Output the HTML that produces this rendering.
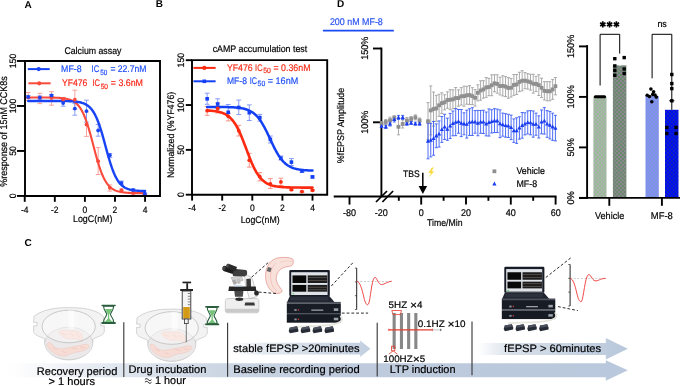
<!DOCTYPE html>
<html><head><meta charset="utf-8"><style>
html,body{margin:0;padding:0;background:#fff;}
svg{display:block;font-family:"Liberation Sans", sans-serif;text-rendering:geometricPrecision;}
#w{will-change:transform;width:685px;height:386px;}
</style></head><body><div id="w">
<svg width="685" height="386" viewBox="0 0 685 386">
<text transform="translate(24.5,8.3) scale(1,1.0)" x="0" y="0" font-size="10.0" fill="#000" text-anchor="start" font-weight="bold" >A</text>
<text transform="translate(64.4,54.1) scale(1,1.08)" x="0" y="0" font-size="9" fill="#000" stroke="#000" stroke-width="0.18" text-anchor="start" font-weight="normal" textLength="57" lengthAdjust="spacingAndGlyphs" >Calcium assay</text>
<line x1="27.80" y1="69.10" x2="49.70" y2="69.10" stroke="#1844f5" stroke-width="2.0" />
<circle cx="38.7" cy="69.1" r="2.1" fill="#1844f5"/>
<text transform="translate(61.1,72.3) scale(1,1.08)" x="0" y="0" font-size="8.9" fill="#1f4ff7" stroke="#1f4ff7" stroke-width="0.18" text-anchor="start" font-weight="normal" textLength="20.5" lengthAdjust="spacingAndGlyphs" >MF-8</text>
<text transform="translate(91.5,72.3) scale(1,1.08)" x="0" y="0" font-size="8.9" fill="#1f4ff7" stroke="#1f4ff7" stroke-width="0.18" text-anchor="start" font-weight="normal" textLength="7.7" lengthAdjust="spacingAndGlyphs" >IC</text>
<text transform="translate(100.2,74.6) scale(1,1.08)" x="0" y="0" font-size="7.0" fill="#1f4ff7" stroke="#1f4ff7" stroke-width="0.18" text-anchor="start" font-weight="normal" textLength="7.1" lengthAdjust="spacingAndGlyphs" >50</text>
<text transform="translate(110.4,72.3) scale(1,1.08)" x="0" y="0" font-size="8.9" fill="#1f4ff7" stroke="#1f4ff7" stroke-width="0.18" text-anchor="start" font-weight="normal" textLength="36.1" lengthAdjust="spacingAndGlyphs" >= 22.7nM</text>
<line x1="28.40" y1="83.30" x2="50.60" y2="83.30" stroke="#fa4a3c" stroke-width="2.0" />
<circle cx="39.2" cy="83.3" r="2.1" fill="#fa4a3c"/>
<text transform="translate(62.0,86.2) scale(1,1.08)" x="0" y="0" font-size="8.9" fill="#f8281a" stroke="#f8281a" stroke-width="0.18" text-anchor="start" font-weight="normal" textLength="25.3" lengthAdjust="spacingAndGlyphs" >YF476</text>
<text transform="translate(92.5,86.2) scale(1,1.08)" x="0" y="0" font-size="8.9" fill="#f8281a" stroke="#f8281a" stroke-width="0.18" text-anchor="start" font-weight="normal" textLength="7.5" lengthAdjust="spacingAndGlyphs" >IC</text>
<text transform="translate(100.7,88.5) scale(1,1.08)" x="0" y="0" font-size="7.0" fill="#f8281a" stroke="#f8281a" stroke-width="0.18" text-anchor="start" font-weight="normal" textLength="7.3" lengthAdjust="spacingAndGlyphs" >50</text>
<text transform="translate(110.8,86.2) scale(1,1.08)" x="0" y="0" font-size="8.9" fill="#f8281a" stroke="#f8281a" stroke-width="0.18" text-anchor="start" font-weight="normal" textLength="32.2" lengthAdjust="spacingAndGlyphs" >= 3.6nM</text>
<line x1="28.20" y1="92.50" x2="28.20" y2="100.50" stroke="#f79a92" stroke-width="0.9" />
<line x1="25.80" y1="92.50" x2="30.60" y2="92.50" stroke="#f79a92" stroke-width="0.9" />
<line x1="25.80" y1="100.50" x2="30.60" y2="100.50" stroke="#f79a92" stroke-width="0.9" />
<line x1="28.20" y1="95.50" x2="28.20" y2="98.50" stroke="#7d95f5" stroke-width="0.9" />
<line x1="25.80" y1="95.50" x2="30.60" y2="95.50" stroke="#7d95f5" stroke-width="0.9" />
<line x1="25.80" y1="98.50" x2="30.60" y2="98.50" stroke="#7d95f5" stroke-width="0.9" />
<line x1="39.86" y1="93.30" x2="39.86" y2="103.60" stroke="#f79a92" stroke-width="0.9" />
<line x1="37.46" y1="93.30" x2="42.26" y2="93.30" stroke="#f79a92" stroke-width="0.9" />
<line x1="37.46" y1="103.60" x2="42.26" y2="103.60" stroke="#f79a92" stroke-width="0.9" />
<line x1="39.86" y1="95.90" x2="39.86" y2="99.50" stroke="#7d95f5" stroke-width="0.9" />
<line x1="37.46" y1="95.90" x2="42.26" y2="95.90" stroke="#7d95f5" stroke-width="0.9" />
<line x1="37.46" y1="99.50" x2="42.26" y2="99.50" stroke="#7d95f5" stroke-width="0.9" />
<line x1="51.52" y1="91.70" x2="51.52" y2="105.20" stroke="#f79a92" stroke-width="0.9" />
<line x1="49.12" y1="91.70" x2="53.92" y2="91.70" stroke="#f79a92" stroke-width="0.9" />
<line x1="49.12" y1="105.20" x2="53.92" y2="105.20" stroke="#f79a92" stroke-width="0.9" />
<line x1="51.52" y1="94.50" x2="51.52" y2="96.50" stroke="#7d95f5" stroke-width="0.9" />
<line x1="49.12" y1="94.50" x2="53.92" y2="94.50" stroke="#7d95f5" stroke-width="0.9" />
<line x1="49.12" y1="96.50" x2="53.92" y2="96.50" stroke="#7d95f5" stroke-width="0.9" />
<line x1="63.18" y1="97.50" x2="63.18" y2="101.50" stroke="#f79a92" stroke-width="0.9" />
<line x1="60.78" y1="97.50" x2="65.58" y2="97.50" stroke="#f79a92" stroke-width="0.9" />
<line x1="60.78" y1="101.50" x2="65.58" y2="101.50" stroke="#f79a92" stroke-width="0.9" />
<line x1="63.18" y1="99.50" x2="63.18" y2="106.20" stroke="#7d95f5" stroke-width="0.9" />
<line x1="60.78" y1="99.50" x2="65.58" y2="99.50" stroke="#7d95f5" stroke-width="0.9" />
<line x1="60.78" y1="106.20" x2="65.58" y2="106.20" stroke="#7d95f5" stroke-width="0.9" />
<line x1="74.84" y1="90.20" x2="74.84" y2="109.30" stroke="#f79a92" stroke-width="0.9" />
<line x1="72.44" y1="90.20" x2="77.24" y2="90.20" stroke="#f79a92" stroke-width="0.9" />
<line x1="72.44" y1="109.30" x2="77.24" y2="109.30" stroke="#f79a92" stroke-width="0.9" />
<line x1="74.84" y1="103.60" x2="74.84" y2="115.20" stroke="#7d95f5" stroke-width="0.9" />
<line x1="72.44" y1="103.60" x2="77.24" y2="103.60" stroke="#7d95f5" stroke-width="0.9" />
<line x1="72.44" y1="115.20" x2="77.24" y2="115.20" stroke="#7d95f5" stroke-width="0.9" />
<line x1="86.50" y1="112.00" x2="86.50" y2="136.40" stroke="#f79a92" stroke-width="0.9" />
<line x1="84.10" y1="112.00" x2="88.90" y2="112.00" stroke="#f79a92" stroke-width="0.9" />
<line x1="84.10" y1="136.40" x2="88.90" y2="136.40" stroke="#f79a92" stroke-width="0.9" />
<line x1="86.50" y1="100.20" x2="86.50" y2="122.10" stroke="#7d95f5" stroke-width="0.9" />
<line x1="84.10" y1="100.20" x2="88.90" y2="100.20" stroke="#7d95f5" stroke-width="0.9" />
<line x1="84.10" y1="122.10" x2="88.90" y2="122.10" stroke="#7d95f5" stroke-width="0.9" />
<line x1="98.16" y1="147.60" x2="98.16" y2="174.50" stroke="#f79a92" stroke-width="0.9" />
<line x1="95.76" y1="147.60" x2="100.56" y2="147.60" stroke="#f79a92" stroke-width="0.9" />
<line x1="95.76" y1="174.50" x2="100.56" y2="174.50" stroke="#f79a92" stroke-width="0.9" />
<line x1="98.16" y1="124.50" x2="98.16" y2="136.20" stroke="#7d95f5" stroke-width="0.9" />
<line x1="95.76" y1="124.50" x2="100.56" y2="124.50" stroke="#7d95f5" stroke-width="0.9" />
<line x1="95.76" y1="136.20" x2="100.56" y2="136.20" stroke="#7d95f5" stroke-width="0.9" />
<line x1="109.82" y1="184.90" x2="109.82" y2="191.10" stroke="#f79a92" stroke-width="0.9" />
<line x1="107.42" y1="184.90" x2="112.22" y2="184.90" stroke="#f79a92" stroke-width="0.9" />
<line x1="107.42" y1="191.10" x2="112.22" y2="191.10" stroke="#f79a92" stroke-width="0.9" />
<line x1="109.82" y1="153.50" x2="109.82" y2="157.50" stroke="#7d95f5" stroke-width="0.9" />
<line x1="107.42" y1="153.50" x2="112.22" y2="153.50" stroke="#7d95f5" stroke-width="0.9" />
<line x1="107.42" y1="157.50" x2="112.22" y2="157.50" stroke="#7d95f5" stroke-width="0.9" />
<line x1="121.48" y1="189.00" x2="121.48" y2="191.50" stroke="#f79a92" stroke-width="0.9" />
<line x1="119.08" y1="189.00" x2="123.88" y2="189.00" stroke="#f79a92" stroke-width="0.9" />
<line x1="119.08" y1="191.50" x2="123.88" y2="191.50" stroke="#f79a92" stroke-width="0.9" />
<line x1="121.48" y1="181.00" x2="121.48" y2="184.50" stroke="#7d95f5" stroke-width="0.9" />
<line x1="119.08" y1="181.00" x2="123.88" y2="181.00" stroke="#7d95f5" stroke-width="0.9" />
<line x1="119.08" y1="184.50" x2="123.88" y2="184.50" stroke="#7d95f5" stroke-width="0.9" />
<line x1="133.14" y1="192.00" x2="133.14" y2="194.00" stroke="#f79a92" stroke-width="0.9" />
<line x1="130.74" y1="192.00" x2="135.54" y2="192.00" stroke="#f79a92" stroke-width="0.9" />
<line x1="130.74" y1="194.00" x2="135.54" y2="194.00" stroke="#f79a92" stroke-width="0.9" />
<line x1="133.14" y1="189.00" x2="133.14" y2="191.00" stroke="#7d95f5" stroke-width="0.9" />
<line x1="130.74" y1="189.00" x2="135.54" y2="189.00" stroke="#7d95f5" stroke-width="0.9" />
<line x1="130.74" y1="191.00" x2="135.54" y2="191.00" stroke="#7d95f5" stroke-width="0.9" />
<line x1="144.80" y1="194.00" x2="144.80" y2="196.00" stroke="#f79a92" stroke-width="0.9" />
<line x1="142.40" y1="194.00" x2="147.20" y2="194.00" stroke="#f79a92" stroke-width="0.9" />
<line x1="142.40" y1="196.00" x2="147.20" y2="196.00" stroke="#f79a92" stroke-width="0.9" />
<line x1="144.80" y1="193.00" x2="144.80" y2="194.50" stroke="#7d95f5" stroke-width="0.9" />
<line x1="142.40" y1="193.00" x2="147.20" y2="193.00" stroke="#7d95f5" stroke-width="0.9" />
<line x1="142.40" y1="194.50" x2="147.20" y2="194.50" stroke="#7d95f5" stroke-width="0.9" />
<path d="M28.20,97.45 L29.17,97.45 L30.15,97.45 L31.12,97.45 L32.09,97.46 L33.07,97.46 L34.04,97.46 L35.02,97.46 L35.99,97.46 L36.96,97.46 L37.94,97.46 L38.91,97.47 L39.89,97.47 L40.86,97.47 L41.83,97.48 L42.81,97.48 L43.78,97.49 L44.75,97.49 L45.73,97.50 L46.70,97.51 L47.68,97.52 L48.65,97.53 L49.62,97.54 L50.60,97.56 L51.57,97.57 L52.55,97.59 L53.52,97.62 L54.49,97.65 L55.47,97.68 L56.44,97.72 L57.41,97.76 L58.39,97.82 L59.36,97.88 L60.34,97.95 L61.31,98.03 L62.28,98.13 L63.26,98.24 L64.23,98.37 L65.21,98.53 L66.18,98.70 L67.15,98.91 L68.13,99.15 L69.10,99.43 L70.07,99.76 L71.05,100.13 L72.02,100.57 L73.00,101.07 L73.97,101.65 L74.94,102.32 L75.92,103.09 L76.89,103.97 L77.87,104.98 L78.84,106.13 L79.81,107.43 L80.79,108.90 L81.76,110.56 L82.73,112.42 L83.71,114.48 L84.68,116.76 L85.66,119.26 L86.63,121.98 L87.60,124.92 L88.58,128.05 L89.55,131.37 L90.52,134.84 L91.50,138.42 L92.47,142.09 L93.45,145.80 L94.42,149.50 L95.39,153.15 L96.37,156.71 L97.34,160.14 L98.32,163.41 L99.29,166.50 L100.26,169.38 L101.24,172.04 L102.21,174.49 L103.18,176.71 L104.16,178.72 L105.13,180.53 L106.11,182.14 L107.08,183.57 L108.05,184.83 L109.03,185.94 L110.00,186.91 L110.98,187.77 L111.95,188.51 L112.92,189.15 L113.90,189.71 L114.87,190.20 L115.84,190.62 L116.82,190.98 L117.79,191.29 L118.77,191.56 L119.74,191.79 L120.71,191.99 L121.69,192.16 L122.66,192.31 L123.64,192.44 L124.61,192.55 L125.58,192.64 L126.56,192.72 L127.53,192.79 L128.50,192.85 L129.48,192.90 L130.45,192.94 L131.43,192.98 L132.40,193.01 L133.37,193.04 L134.35,193.06 L135.32,193.08 L136.30,193.10 L137.27,193.11 L138.24,193.12 L139.22,193.14 L140.19,193.14 L141.16,193.15 L142.14,193.16 L143.11,193.17 L144.09,193.17 L145.06,193.17" stroke="#fa4a3c" fill="none" stroke-width="2.1" stroke-linecap="round" stroke-linejoin="round"/>
<path d="M28.20,100.97 L29.17,100.97 L30.15,100.97 L31.12,100.97 L32.09,100.97 L33.07,100.97 L34.04,100.97 L35.02,100.97 L35.99,100.97 L36.96,100.97 L37.94,100.97 L38.91,100.97 L39.89,100.97 L40.86,100.98 L41.83,100.98 L42.81,100.98 L43.78,100.98 L44.75,100.98 L45.73,100.98 L46.70,100.98 L47.68,100.98 L48.65,100.98 L49.62,100.98 L50.60,100.98 L51.57,100.99 L52.55,100.99 L53.52,100.99 L54.49,100.99 L55.47,101.00 L56.44,101.00 L57.41,101.01 L58.39,101.01 L59.36,101.02 L60.34,101.03 L61.31,101.04 L62.28,101.05 L63.26,101.06 L64.23,101.08 L65.21,101.10 L66.18,101.12 L67.15,101.14 L68.13,101.17 L69.10,101.20 L70.07,101.24 L71.05,101.29 L72.02,101.35 L73.00,101.41 L73.97,101.48 L74.94,101.57 L75.92,101.68 L76.89,101.80 L77.87,101.94 L78.84,102.10 L79.81,102.29 L80.79,102.52 L81.76,102.78 L82.73,103.09 L83.71,103.44 L84.68,103.86 L85.66,104.34 L86.63,104.89 L87.60,105.54 L88.58,106.28 L89.55,107.13 L90.52,108.12 L91.50,109.24 L92.47,110.52 L93.45,111.97 L94.42,113.60 L95.39,115.43 L96.37,117.48 L97.34,119.74 L98.32,122.22 L99.29,124.92 L100.26,127.83 L101.24,130.93 L102.21,134.21 L103.18,137.62 L104.16,141.14 L105.13,144.72 L106.11,148.31 L107.08,151.88 L108.05,155.38 L109.03,158.76 L110.00,162.00 L110.98,165.06 L111.95,167.92 L112.92,170.57 L113.90,173.00 L114.87,175.21 L115.84,177.20 L116.82,178.99 L117.79,180.58 L118.77,181.99 L119.74,183.23 L120.71,184.31 L121.69,185.26 L122.66,186.09 L123.64,186.81 L124.61,187.43 L125.58,187.97 L126.56,188.43 L127.53,188.83 L128.50,189.17 L129.48,189.47 L130.45,189.72 L131.43,189.94 L132.40,190.12 L133.37,190.28 L134.35,190.42 L135.32,190.54 L136.30,190.63 L137.27,190.72 L138.24,190.79 L139.22,190.85 L140.19,190.91 L141.16,190.95 L142.14,190.99 L143.11,191.02 L144.09,191.05 L145.06,191.07" stroke="#1844f5" fill="none" stroke-width="2.4" stroke-linecap="round" stroke-linejoin="round"/>
<circle cx="28.20" cy="97.2" r="1.9" fill="#fa4a3c"/>
<circle cx="39.86" cy="97.6" r="1.9" fill="#fa4a3c"/>
<circle cx="51.52" cy="97.9" r="1.9" fill="#fa4a3c"/>
<circle cx="63.18" cy="99.5" r="1.9" fill="#fa4a3c"/>
<circle cx="74.84" cy="99.7" r="1.9" fill="#fa4a3c"/>
<circle cx="86.50" cy="124.5" r="1.9" fill="#fa4a3c"/>
<circle cx="98.16" cy="161.2" r="1.9" fill="#fa4a3c"/>
<circle cx="109.82" cy="187.8" r="1.9" fill="#fa4a3c"/>
<circle cx="121.48" cy="190.2" r="1.9" fill="#fa4a3c"/>
<circle cx="133.14" cy="193.0" r="1.9" fill="#fa4a3c"/>
<circle cx="144.80" cy="195.0" r="1.9" fill="#fa4a3c"/>
<circle cx="28.20" cy="96.9" r="1.9" fill="#1844f5"/>
<circle cx="39.86" cy="97.6" r="1.9" fill="#1844f5"/>
<circle cx="51.52" cy="95.4" r="1.9" fill="#1844f5"/>
<circle cx="63.18" cy="103.1" r="1.9" fill="#1844f5"/>
<circle cx="74.84" cy="108.6" r="1.9" fill="#1844f5"/>
<circle cx="86.50" cy="111.1" r="1.9" fill="#1844f5"/>
<circle cx="98.16" cy="130.4" r="1.9" fill="#1844f5"/>
<circle cx="109.82" cy="155.2" r="1.9" fill="#1844f5"/>
<circle cx="121.48" cy="182.8" r="1.9" fill="#1844f5"/>
<circle cx="133.14" cy="190.0" r="1.9" fill="#1844f5"/>
<circle cx="144.80" cy="193.7" r="1.9" fill="#1844f5"/>
<path d="M25.0,61.0 V196.0 H160.0 V61.0 Z" stroke="#000" fill="none" stroke-width="1.9" />
<line x1="17.00" y1="195.95" x2="25.00" y2="195.95" stroke="#000" stroke-width="1.9" />
<line x1="17.00" y1="150.96" x2="25.00" y2="150.96" stroke="#000" stroke-width="1.9" />
<line x1="17.00" y1="105.98" x2="25.00" y2="105.98" stroke="#000" stroke-width="1.9" />
<line x1="17.00" y1="60.99" x2="25.00" y2="60.99" stroke="#000" stroke-width="1.9" />
<line x1="24.74" y1="196.00" x2="24.74" y2="201.80" stroke="#000" stroke-width="1.9" />
<text transform="translate(24.74000000000001,212.6) scale(1,1.08)" x="0" y="0" font-size="8.5" fill="#000" stroke="#000" stroke-width="0.18" text-anchor="middle" font-weight="normal" >-4</text>
<line x1="54.82" y1="196.00" x2="54.82" y2="201.80" stroke="#000" stroke-width="1.9" />
<text transform="translate(54.82000000000001,212.6) scale(1,1.08)" x="0" y="0" font-size="8.5" fill="#000" stroke="#000" stroke-width="0.18" text-anchor="middle" font-weight="normal" >-2</text>
<line x1="84.90" y1="196.00" x2="84.90" y2="201.80" stroke="#000" stroke-width="1.9" />
<text transform="translate(84.9,212.6) scale(1,1.08)" x="0" y="0" font-size="8.5" fill="#000" stroke="#000" stroke-width="0.18" text-anchor="middle" font-weight="normal" >0</text>
<line x1="114.98" y1="196.00" x2="114.98" y2="201.80" stroke="#000" stroke-width="1.9" />
<text transform="translate(114.98,212.6) scale(1,1.08)" x="0" y="0" font-size="8.5" fill="#000" stroke="#000" stroke-width="0.18" text-anchor="middle" font-weight="normal" >2</text>
<line x1="145.06" y1="196.00" x2="145.06" y2="201.80" stroke="#000" stroke-width="1.9" />
<text transform="translate(145.06,212.6) scale(1,1.08)" x="0" y="0" font-size="8.5" fill="#000" stroke="#000" stroke-width="0.18" text-anchor="middle" font-weight="normal" >4</text>
<text transform="translate(16.41,195.95) rotate(-90) scale(1,1.08)" x="0" y="0" font-size="8.7" fill="#000" stroke="#000" stroke-width="0.18" text-anchor="middle">0</text>
<text transform="translate(16.41,150.96) rotate(-90) scale(1,1.08)" x="0" y="0" font-size="8.7" fill="#000" stroke="#000" stroke-width="0.18" text-anchor="middle">50</text>
<text transform="translate(16.41,105.98) rotate(-90) scale(1,1.08)" x="0" y="0" font-size="8.7" fill="#000" stroke="#000" stroke-width="0.18" text-anchor="middle">100</text>
<text transform="translate(16.41,60.99) rotate(-90) scale(1,1.08)" x="0" y="0" font-size="8.7" fill="#000" stroke="#000" stroke-width="0.18" text-anchor="middle">150</text>
<text transform="translate(73.0,221.8) scale(1,1.08)" x="0" y="0" font-size="8.9" fill="#000" stroke="#000" stroke-width="0.18" text-anchor="start" font-weight="normal" textLength="39.4" lengthAdjust="spacingAndGlyphs" >LogC(nM)</text>
<text transform="translate(7.46,131.50) rotate(-90) scale(1,1.08)" x="0" y="0" font-size="9.1" fill="#000" stroke="#000" stroke-width="0.18" text-anchor="middle" textLength="110.4" lengthAdjust="spacingAndGlyphs">%response of 15nM CCK8s</text>
<text transform="translate(155.8,6.7) scale(1,1.0)" x="0" y="0" font-size="10.0" fill="#000" text-anchor="start" font-weight="bold" >B</text>
<text transform="translate(212.7,52.1) scale(1,1.08)" x="0" y="0" font-size="8.8" fill="#000" stroke="#000" stroke-width="0.18" text-anchor="start" font-weight="normal" textLength="94.5" lengthAdjust="spacingAndGlyphs" >cAMP accumulation test</text>
<line x1="193.40" y1="67.90" x2="215.60" y2="67.90" stroke="#fc2a10" stroke-width="2.0" />
<circle cx="204.3" cy="67.9" r="2.1" fill="#fc2a10"/>
<text transform="translate(227.0,70.5) scale(1,1.08)" x="0" y="0" font-size="8.9" fill="#f82c18" stroke="#f82c18" stroke-width="0.18" text-anchor="start" font-weight="normal" textLength="25.6" lengthAdjust="spacingAndGlyphs" >YF476</text>
<text transform="translate(255.1,70.5) scale(1,1.08)" x="0" y="0" font-size="8.9" fill="#f82c18" stroke="#f82c18" stroke-width="0.18" text-anchor="start" font-weight="normal" textLength="7.4" lengthAdjust="spacingAndGlyphs" >IC</text>
<text transform="translate(263.2,72.9) scale(1,1.08)" x="0" y="0" font-size="7.0" fill="#f82c18" stroke="#f82c18" stroke-width="0.18" text-anchor="start" font-weight="normal" textLength="7.6" lengthAdjust="spacingAndGlyphs" >50</text>
<text transform="translate(273.5,70.5) scale(1,1.08)" x="0" y="0" font-size="8.9" fill="#f82c18" stroke="#f82c18" stroke-width="0.18" text-anchor="start" font-weight="normal" textLength="37" lengthAdjust="spacingAndGlyphs" >= 0.36nM</text>
<line x1="193.40" y1="81.30" x2="215.60" y2="81.30" stroke="#1440f4" stroke-width="2.0" />
<rect x="202.5" y="79.5" width="3.6" height="3.6" fill="#1440f4"/>
<text transform="translate(227.0,84.0) scale(1,1.08)" x="0" y="0" font-size="8.9" fill="#1f4ff7" stroke="#1f4ff7" stroke-width="0.18" text-anchor="start" font-weight="normal" textLength="19.9" lengthAdjust="spacingAndGlyphs" >MF-8</text>
<text transform="translate(249.8,84.0) scale(1,1.08)" x="0" y="0" font-size="8.9" fill="#1f4ff7" stroke="#1f4ff7" stroke-width="0.18" text-anchor="start" font-weight="normal" textLength="7.2" lengthAdjust="spacingAndGlyphs" >IC</text>
<text transform="translate(257.6,86.4) scale(1,1.08)" x="0" y="0" font-size="7.0" fill="#1f4ff7" stroke="#1f4ff7" stroke-width="0.18" text-anchor="start" font-weight="normal" textLength="7.6" lengthAdjust="spacingAndGlyphs" >50</text>
<text transform="translate(267.8,84.0) scale(1,1.08)" x="0" y="0" font-size="8.9" fill="#1f4ff7" stroke="#1f4ff7" stroke-width="0.18" text-anchor="start" font-weight="normal" textLength="30.4" lengthAdjust="spacingAndGlyphs" >= 16nM</text>
<line x1="207.15" y1="106.60" x2="207.15" y2="115.30" stroke="#f88a7a" stroke-width="0.9" />
<line x1="204.75" y1="106.60" x2="209.55" y2="106.60" stroke="#f88a7a" stroke-width="0.9" />
<line x1="204.75" y1="115.30" x2="209.55" y2="115.30" stroke="#f88a7a" stroke-width="0.9" />
<line x1="207.15" y1="93.20" x2="207.15" y2="104.30" stroke="#7a92f5" stroke-width="0.9" />
<line x1="204.75" y1="93.20" x2="209.55" y2="93.20" stroke="#7a92f5" stroke-width="0.9" />
<line x1="204.75" y1="104.30" x2="209.55" y2="104.30" stroke="#7a92f5" stroke-width="0.9" />
<line x1="217.69" y1="103.00" x2="217.69" y2="113.00" stroke="#f88a7a" stroke-width="0.9" />
<line x1="215.28" y1="103.00" x2="220.09" y2="103.00" stroke="#f88a7a" stroke-width="0.9" />
<line x1="215.28" y1="113.00" x2="220.09" y2="113.00" stroke="#f88a7a" stroke-width="0.9" />
<line x1="217.69" y1="98.80" x2="217.69" y2="108.80" stroke="#7a92f5" stroke-width="0.9" />
<line x1="215.28" y1="98.80" x2="220.09" y2="98.80" stroke="#7a92f5" stroke-width="0.9" />
<line x1="215.28" y1="108.80" x2="220.09" y2="108.80" stroke="#7a92f5" stroke-width="0.9" />
<line x1="228.22" y1="113.00" x2="228.22" y2="120.90" stroke="#f88a7a" stroke-width="0.9" />
<line x1="225.82" y1="113.00" x2="230.62" y2="113.00" stroke="#f88a7a" stroke-width="0.9" />
<line x1="225.82" y1="120.90" x2="230.62" y2="120.90" stroke="#f88a7a" stroke-width="0.9" />
<line x1="228.22" y1="104.50" x2="228.22" y2="113.60" stroke="#7a92f5" stroke-width="0.9" />
<line x1="225.82" y1="104.50" x2="230.62" y2="104.50" stroke="#7a92f5" stroke-width="0.9" />
<line x1="225.82" y1="113.60" x2="230.62" y2="113.60" stroke="#7a92f5" stroke-width="0.9" />
<line x1="238.75" y1="125.30" x2="238.75" y2="136.00" stroke="#f88a7a" stroke-width="0.9" />
<line x1="236.35" y1="125.30" x2="241.16" y2="125.30" stroke="#f88a7a" stroke-width="0.9" />
<line x1="236.35" y1="136.00" x2="241.16" y2="136.00" stroke="#f88a7a" stroke-width="0.9" />
<line x1="238.75" y1="100.10" x2="238.75" y2="114.60" stroke="#7a92f5" stroke-width="0.9" />
<line x1="236.35" y1="100.10" x2="241.16" y2="100.10" stroke="#7a92f5" stroke-width="0.9" />
<line x1="236.35" y1="114.60" x2="241.16" y2="114.60" stroke="#7a92f5" stroke-width="0.9" />
<line x1="249.29" y1="153.30" x2="249.29" y2="167.10" stroke="#f88a7a" stroke-width="0.9" />
<line x1="246.89" y1="153.30" x2="251.69" y2="153.30" stroke="#f88a7a" stroke-width="0.9" />
<line x1="246.89" y1="167.10" x2="251.69" y2="167.10" stroke="#f88a7a" stroke-width="0.9" />
<line x1="249.29" y1="104.90" x2="249.29" y2="120.50" stroke="#7a92f5" stroke-width="0.9" />
<line x1="246.89" y1="104.90" x2="251.69" y2="104.90" stroke="#7a92f5" stroke-width="0.9" />
<line x1="246.89" y1="120.50" x2="251.69" y2="120.50" stroke="#7a92f5" stroke-width="0.9" />
<line x1="259.82" y1="172.60" x2="259.82" y2="180.90" stroke="#f88a7a" stroke-width="0.9" />
<line x1="257.43" y1="172.60" x2="262.22" y2="172.60" stroke="#f88a7a" stroke-width="0.9" />
<line x1="257.43" y1="180.90" x2="262.22" y2="180.90" stroke="#f88a7a" stroke-width="0.9" />
<line x1="259.82" y1="114.40" x2="259.82" y2="121.10" stroke="#7a92f5" stroke-width="0.9" />
<line x1="257.43" y1="114.40" x2="262.22" y2="114.40" stroke="#7a92f5" stroke-width="0.9" />
<line x1="257.43" y1="121.10" x2="262.22" y2="121.10" stroke="#7a92f5" stroke-width="0.9" />
<line x1="270.36" y1="178.60" x2="270.36" y2="188.40" stroke="#f88a7a" stroke-width="0.9" />
<line x1="267.96" y1="178.60" x2="272.76" y2="178.60" stroke="#f88a7a" stroke-width="0.9" />
<line x1="267.96" y1="188.40" x2="272.76" y2="188.40" stroke="#f88a7a" stroke-width="0.9" />
<line x1="270.36" y1="136.00" x2="270.36" y2="143.00" stroke="#7a92f5" stroke-width="0.9" />
<line x1="267.96" y1="136.00" x2="272.76" y2="136.00" stroke="#7a92f5" stroke-width="0.9" />
<line x1="267.96" y1="143.00" x2="272.76" y2="143.00" stroke="#7a92f5" stroke-width="0.9" />
<line x1="280.89" y1="178.20" x2="280.89" y2="185.50" stroke="#f88a7a" stroke-width="0.9" />
<line x1="278.50" y1="178.20" x2="283.29" y2="178.20" stroke="#f88a7a" stroke-width="0.9" />
<line x1="278.50" y1="185.50" x2="283.29" y2="185.50" stroke="#f88a7a" stroke-width="0.9" />
<line x1="280.89" y1="156.00" x2="280.89" y2="160.00" stroke="#7a92f5" stroke-width="0.9" />
<line x1="278.50" y1="156.00" x2="283.29" y2="156.00" stroke="#7a92f5" stroke-width="0.9" />
<line x1="278.50" y1="160.00" x2="283.29" y2="160.00" stroke="#7a92f5" stroke-width="0.9" />
<line x1="291.43" y1="189.00" x2="291.43" y2="190.50" stroke="#f88a7a" stroke-width="0.9" />
<line x1="289.03" y1="189.00" x2="293.83" y2="189.00" stroke="#f88a7a" stroke-width="0.9" />
<line x1="289.03" y1="190.50" x2="293.83" y2="190.50" stroke="#f88a7a" stroke-width="0.9" />
<line x1="291.43" y1="158.60" x2="291.43" y2="165.50" stroke="#7a92f5" stroke-width="0.9" />
<line x1="289.03" y1="158.60" x2="293.83" y2="158.60" stroke="#7a92f5" stroke-width="0.9" />
<line x1="289.03" y1="165.50" x2="293.83" y2="165.50" stroke="#7a92f5" stroke-width="0.9" />
<line x1="301.97" y1="191.00" x2="301.97" y2="192.50" stroke="#f88a7a" stroke-width="0.9" />
<line x1="299.57" y1="191.00" x2="304.37" y2="191.00" stroke="#f88a7a" stroke-width="0.9" />
<line x1="299.57" y1="192.50" x2="304.37" y2="192.50" stroke="#f88a7a" stroke-width="0.9" />
<line x1="301.97" y1="169.50" x2="301.97" y2="172.50" stroke="#7a92f5" stroke-width="0.9" />
<line x1="299.57" y1="169.50" x2="304.37" y2="169.50" stroke="#7a92f5" stroke-width="0.9" />
<line x1="299.57" y1="172.50" x2="304.37" y2="172.50" stroke="#7a92f5" stroke-width="0.9" />
<line x1="312.50" y1="189.50" x2="312.50" y2="191.00" stroke="#f88a7a" stroke-width="0.9" />
<line x1="310.10" y1="189.50" x2="314.90" y2="189.50" stroke="#f88a7a" stroke-width="0.9" />
<line x1="310.10" y1="191.00" x2="314.90" y2="191.00" stroke="#f88a7a" stroke-width="0.9" />
<line x1="312.50" y1="176.00" x2="312.50" y2="178.00" stroke="#7a92f5" stroke-width="0.9" />
<line x1="310.10" y1="176.00" x2="314.90" y2="176.00" stroke="#7a92f5" stroke-width="0.9" />
<line x1="310.10" y1="178.00" x2="314.90" y2="178.00" stroke="#7a92f5" stroke-width="0.9" />
<path d="M207.15,106.93 L208.03,106.93 L208.91,106.93 L209.78,106.93 L210.66,106.93 L211.54,106.94 L212.42,106.94 L213.30,106.94 L214.17,106.95 L215.05,106.95 L215.93,106.96 L216.81,106.96 L217.69,106.97 L218.56,106.98 L219.44,106.98 L220.32,106.99 L221.20,107.00 L222.07,107.01 L222.95,107.03 L223.83,107.04 L224.71,107.06 L225.59,107.07 L226.46,107.09 L227.34,107.12 L228.22,107.14 L229.10,107.17 L229.98,107.20 L230.85,107.24 L231.73,107.28 L232.61,107.32 L233.49,107.37 L234.37,107.43 L235.24,107.50 L236.12,107.57 L237.00,107.65 L237.88,107.74 L238.76,107.84 L239.63,107.96 L240.51,108.09 L241.39,108.23 L242.27,108.39 L243.14,108.57 L244.02,108.77 L244.90,109.00 L245.78,109.25 L246.66,109.53 L247.53,109.85 L248.41,110.20 L249.29,110.59 L250.17,111.02 L251.05,111.50 L251.92,112.02 L252.80,112.61 L253.68,113.25 L254.56,113.96 L255.44,114.73 L256.31,115.58 L257.19,116.51 L258.07,117.51 L258.95,118.60 L259.82,119.77 L260.70,121.02 L261.58,122.37 L262.46,123.79 L263.34,125.30 L264.21,126.89 L265.09,128.54 L265.97,130.26 L266.85,132.04 L267.73,133.86 L268.60,135.72 L269.48,137.60 L270.36,139.48 L271.24,141.36 L272.12,143.23 L272.99,145.06 L273.87,146.85 L274.75,148.59 L275.63,150.27 L276.51,151.88 L277.38,153.41 L278.26,154.87 L279.14,156.23 L280.02,157.52 L280.90,158.71 L281.77,159.83 L282.65,160.86 L283.53,161.81 L284.41,162.68 L285.28,163.48 L286.16,164.20 L287.04,164.87 L287.92,165.47 L288.80,166.02 L289.67,166.51 L290.55,166.95 L291.43,167.36 L292.31,167.72 L293.19,168.04 L294.06,168.33 L294.94,168.59 L295.82,168.83 L296.70,169.04 L297.58,169.22 L298.45,169.39 L299.33,169.54 L300.21,169.67 L301.09,169.79 L301.97,169.90 L302.84,169.99 L303.72,170.08 L304.60,170.15 L305.48,170.22 L306.35,170.28 L307.23,170.33 L308.11,170.38 L308.99,170.42 L309.87,170.46 L310.74,170.49 L311.62,170.52 L312.50,170.55" stroke="#1440f4" fill="none" stroke-width="2.5" stroke-linecap="round" stroke-linejoin="round"/>
<path d="M207.15,110.49 L208.03,110.54 L208.91,110.59 L209.78,110.65 L210.66,110.71 L211.54,110.78 L212.42,110.87 L213.30,110.96 L214.17,111.06 L215.05,111.18 L215.93,111.31 L216.81,111.46 L217.69,111.62 L218.56,111.81 L219.44,112.02 L220.32,112.25 L221.20,112.52 L222.07,112.81 L222.95,113.14 L223.83,113.51 L224.71,113.92 L225.59,114.38 L226.46,114.89 L227.34,115.46 L228.22,116.09 L229.10,116.79 L229.98,117.56 L230.85,118.41 L231.73,119.35 L232.61,120.38 L233.49,121.50 L234.37,122.72 L235.24,124.05 L236.12,125.48 L237.00,127.02 L237.88,128.67 L238.76,130.43 L239.63,132.29 L240.51,134.25 L241.39,136.31 L242.27,138.44 L243.14,140.64 L244.02,142.91 L244.90,145.21 L245.78,147.54 L246.66,149.88 L247.53,152.22 L248.41,154.52 L249.29,156.79 L250.17,159.01 L251.05,161.15 L251.92,163.22 L252.80,165.19 L253.68,167.07 L254.56,168.84 L255.44,170.51 L256.31,172.06 L257.19,173.51 L258.07,174.85 L258.95,176.09 L259.82,177.23 L260.70,178.27 L261.58,179.22 L262.46,180.08 L263.34,180.86 L264.21,181.57 L265.09,182.21 L265.97,182.79 L266.85,183.31 L267.73,183.77 L268.60,184.19 L269.48,184.57 L270.36,184.90 L271.24,185.20 L272.12,185.47 L272.99,185.71 L273.87,185.92 L274.75,186.11 L275.63,186.28 L276.51,186.43 L277.38,186.56 L278.26,186.68 L279.14,186.79 L280.02,186.88 L280.90,186.96 L281.77,187.04 L282.65,187.10 L283.53,187.16 L284.41,187.21 L285.28,187.26 L286.16,187.30 L287.04,187.33 L287.92,187.37 L288.80,187.39 L289.67,187.42 L290.55,187.44 L291.43,187.46 L292.31,187.48 L293.19,187.49 L294.06,187.51 L294.94,187.52 L295.82,187.53 L296.70,187.54 L297.58,187.55 L298.45,187.56 L299.33,187.56 L300.21,187.57 L301.09,187.58 L301.97,187.58 L302.84,187.58 L303.72,187.59 L304.60,187.59 L305.48,187.59 L306.35,187.60 L307.23,187.60 L308.11,187.60 L308.99,187.60 L309.87,187.60 L310.74,187.61 L311.62,187.61 L312.50,187.61" stroke="#fc2a10" fill="none" stroke-width="2.6" stroke-linecap="round" stroke-linejoin="round"/>
<circle cx="207.15" cy="110.7" r="1.9" fill="#fc2a10"/>
<circle cx="217.69" cy="108.5" r="1.9" fill="#fc2a10"/>
<circle cx="228.22" cy="116.3" r="1.9" fill="#fc2a10"/>
<circle cx="238.75" cy="130.8" r="1.9" fill="#fc2a10"/>
<circle cx="249.29" cy="160.2" r="1.9" fill="#fc2a10"/>
<circle cx="259.82" cy="176.7" r="1.9" fill="#fc2a10"/>
<circle cx="270.36" cy="183.9" r="1.9" fill="#fc2a10"/>
<circle cx="280.89" cy="181.9" r="1.9" fill="#fc2a10"/>
<circle cx="291.43" cy="189.7" r="1.9" fill="#fc2a10"/>
<circle cx="301.97" cy="191.6" r="1.9" fill="#fc2a10"/>
<circle cx="312.50" cy="190.3" r="1.9" fill="#fc2a10"/>
<rect x="205.35" y="97.00" width="3.6" height="3.6" fill="#1440f4"/>
<rect x="215.88" y="102.20" width="3.6" height="3.6" fill="#1440f4"/>
<rect x="226.42" y="110.50" width="3.6" height="3.6" fill="#1440f4"/>
<rect x="236.95" y="105.70" width="3.6" height="3.6" fill="#1440f4"/>
<rect x="247.49" y="110.90" width="3.6" height="3.6" fill="#1440f4"/>
<rect x="258.02" y="115.80" width="3.6" height="3.6" fill="#1440f4"/>
<rect x="268.56" y="137.60" width="3.6" height="3.6" fill="#1440f4"/>
<rect x="279.09" y="156.40" width="3.6" height="3.6" fill="#1440f4"/>
<rect x="289.63" y="160.30" width="3.6" height="3.6" fill="#1440f4"/>
<rect x="300.17" y="169.20" width="3.6" height="3.6" fill="#1440f4"/>
<rect x="310.70" y="175.10" width="3.6" height="3.6" fill="#1440f4"/>
<path d="M192.0,60.1 V194.8 H327.2 V60.1 Z" stroke="#000" fill="none" stroke-width="1.9" />
<line x1="185.80" y1="194.70" x2="192.00" y2="194.70" stroke="#000" stroke-width="1.9" />
<text transform="translate(183.51,194.70) rotate(-90) scale(1,1.08)" x="0" y="0" font-size="8.7" fill="#000" stroke="#000" stroke-width="0.18" text-anchor="middle">0</text>
<line x1="185.80" y1="149.86" x2="192.00" y2="149.86" stroke="#000" stroke-width="1.9" />
<text transform="translate(183.51,149.86) rotate(-90) scale(1,1.08)" x="0" y="0" font-size="8.7" fill="#000" stroke="#000" stroke-width="0.18" text-anchor="middle">50</text>
<line x1="185.80" y1="105.03" x2="192.00" y2="105.03" stroke="#000" stroke-width="1.9" />
<text transform="translate(183.51,105.03) rotate(-90) scale(1,1.08)" x="0" y="0" font-size="8.7" fill="#000" stroke="#000" stroke-width="0.18" text-anchor="middle">100</text>
<line x1="185.80" y1="60.19" x2="192.00" y2="60.19" stroke="#000" stroke-width="1.9" />
<text transform="translate(183.51,60.19) rotate(-90) scale(1,1.08)" x="0" y="0" font-size="8.7" fill="#000" stroke="#000" stroke-width="0.18" text-anchor="middle">150</text>
<line x1="192.10" y1="194.80" x2="192.10" y2="200.60" stroke="#000" stroke-width="1.9" />
<text transform="translate(192.10000000000002,211.0) scale(1,1.08)" x="0" y="0" font-size="8.5" fill="#000" stroke="#000" stroke-width="0.18" text-anchor="middle" font-weight="normal" >-4</text>
<line x1="222.20" y1="194.80" x2="222.20" y2="200.60" stroke="#000" stroke-width="1.9" />
<text transform="translate(222.20000000000002,211.0) scale(1,1.08)" x="0" y="0" font-size="8.5" fill="#000" stroke="#000" stroke-width="0.18" text-anchor="middle" font-weight="normal" >-2</text>
<line x1="252.30" y1="194.80" x2="252.30" y2="200.60" stroke="#000" stroke-width="1.9" />
<text transform="translate(252.3,211.0) scale(1,1.08)" x="0" y="0" font-size="8.5" fill="#000" stroke="#000" stroke-width="0.18" text-anchor="middle" font-weight="normal" >0</text>
<line x1="282.40" y1="194.80" x2="282.40" y2="200.60" stroke="#000" stroke-width="1.9" />
<text transform="translate(282.40000000000003,211.0) scale(1,1.08)" x="0" y="0" font-size="8.5" fill="#000" stroke="#000" stroke-width="0.18" text-anchor="middle" font-weight="normal" >2</text>
<line x1="312.50" y1="194.80" x2="312.50" y2="200.60" stroke="#000" stroke-width="1.9" />
<text transform="translate(312.5,211.0) scale(1,1.08)" x="0" y="0" font-size="8.5" fill="#000" stroke="#000" stroke-width="0.18" text-anchor="middle" font-weight="normal" >4</text>
<text transform="translate(240.7,223.0) scale(1,1.08)" x="0" y="0" font-size="8.9" fill="#000" stroke="#000" stroke-width="0.18" text-anchor="start" font-weight="normal" textLength="38.9" lengthAdjust="spacingAndGlyphs" >LogC(nM)</text>
<text transform="translate(174.19,134.90) rotate(-90) scale(1,1.08)" x="0" y="0" font-size="8.9" fill="#000" stroke="#000" stroke-width="0.18" text-anchor="middle" textLength="86.4" lengthAdjust="spacingAndGlyphs">Normalized (%YF476)</text>
<text transform="translate(337.0,7.4) scale(1,1.0)" x="0" y="0" font-size="10.0" fill="#000" text-anchor="start" font-weight="bold" >D</text>
<text transform="translate(329.9,25.2) scale(1,1.08)" x="0" y="0" font-size="9" fill="#2b55f0" stroke="#2b55f0" stroke-width="0.18" text-anchor="start" font-weight="normal" textLength="52.9" lengthAdjust="spacingAndGlyphs" >200 nM MF-8</text>
<line x1="322.90" y1="30.60" x2="393.80" y2="30.60" stroke="#1a4af5" stroke-width="1.7" />
<line x1="381.40" y1="47.60" x2="381.40" y2="196.50" stroke="#000" stroke-width="1.9" />
<line x1="373.00" y1="48.50" x2="381.40" y2="48.50" stroke="#000" stroke-width="1.9" />
<line x1="373.00" y1="122.30" x2="381.40" y2="122.30" stroke="#000" stroke-width="1.9" />
<text transform="translate(368.22,48.20) rotate(-90) scale(1,1.08)" x="0" y="0" font-size="9" fill="#000" stroke="#000" stroke-width="0.18" text-anchor="middle" textLength="23.3" lengthAdjust="spacingAndGlyphs">150%</text>
<text transform="translate(368.42,122.20) rotate(-90) scale(1,1.08)" x="0" y="0" font-size="9" fill="#000" stroke="#000" stroke-width="0.18" text-anchor="middle" textLength="23.3" lengthAdjust="spacingAndGlyphs">100%</text>
<text transform="translate(343.82,125.50) rotate(-90) scale(1,1.08)" x="0" y="0" font-size="9" fill="#000" stroke="#000" stroke-width="0.18" text-anchor="middle" textLength="75.5" lengthAdjust="spacingAndGlyphs">%fEPSP Amplitude</text>
<line x1="333.70" y1="196.50" x2="556.50" y2="196.50" stroke="#000" stroke-width="1.9" />
<line x1="376.00" y1="202.00" x2="387.00" y2="191.00" stroke="#000" stroke-width="1.7" />
<line x1="382.40" y1="202.00" x2="393.10" y2="191.00" stroke="#000" stroke-width="1.7" />
<line x1="349.50" y1="196.50" x2="349.50" y2="204.60" stroke="#000" stroke-width="1.9" />
<line x1="398.80" y1="196.50" x2="398.80" y2="200.80" stroke="#000" stroke-width="1.9" />
<line x1="421.20" y1="196.50" x2="421.20" y2="204.60" stroke="#000" stroke-width="1.9" />
<line x1="443.60" y1="196.50" x2="443.60" y2="200.80" stroke="#000" stroke-width="1.9" />
<line x1="466.00" y1="196.50" x2="466.00" y2="204.60" stroke="#000" stroke-width="1.9" />
<line x1="488.40" y1="196.50" x2="488.40" y2="200.80" stroke="#000" stroke-width="1.9" />
<line x1="510.80" y1="196.50" x2="510.80" y2="204.60" stroke="#000" stroke-width="1.9" />
<line x1="533.20" y1="196.50" x2="533.20" y2="200.80" stroke="#000" stroke-width="1.9" />
<line x1="555.60" y1="196.50" x2="555.60" y2="204.60" stroke="#000" stroke-width="1.9" />
<text transform="translate(349.5,216.0) scale(1,1.08)" x="0" y="0" font-size="9.0" fill="#000" stroke="#000" stroke-width="0.18" text-anchor="middle" font-weight="normal" >-80</text>
<text transform="translate(381.2,216.0) scale(1,1.08)" x="0" y="0" font-size="9.0" fill="#000" stroke="#000" stroke-width="0.18" text-anchor="middle" font-weight="normal" >-20</text>
<text transform="translate(421.3,216.0) scale(1,1.08)" x="0" y="0" font-size="9.0" fill="#000" stroke="#000" stroke-width="0.18" text-anchor="middle" font-weight="normal" >0</text>
<text transform="translate(466.0,216.0) scale(1,1.08)" x="0" y="0" font-size="9.0" fill="#000" stroke="#000" stroke-width="0.18" text-anchor="middle" font-weight="normal" >20</text>
<text transform="translate(510.8,216.0) scale(1,1.08)" x="0" y="0" font-size="9.0" fill="#000" stroke="#000" stroke-width="0.18" text-anchor="middle" font-weight="normal" >40</text>
<text transform="translate(555.8,216.0) scale(1,1.08)" x="0" y="0" font-size="9.0" fill="#000" stroke="#000" stroke-width="0.18" text-anchor="middle" font-weight="normal" >60</text>
<text transform="translate(427.0,226.0) scale(1,1.08)" x="0" y="0" font-size="9.0" fill="#000" stroke="#000" stroke-width="0.18" text-anchor="start" font-weight="normal" textLength="35.5" lengthAdjust="spacingAndGlyphs" >Time/Min</text>
<text transform="translate(403.0,177.2) scale(1,1.08)" x="0" y="0" font-size="8.8" fill="#000" stroke="#000" stroke-width="0.18" text-anchor="start" font-weight="normal" textLength="16.7" lengthAdjust="spacingAndGlyphs" >TBS</text>
<line x1="422.80" y1="172.80" x2="422.80" y2="188.00" stroke="#000" stroke-width="1.5" />
<path d="M418.6,186.1 L427.1,186.1 L422.85,194.0 Z" stroke="none" fill="#000" stroke-width="1" />
<path d="M431.8,167.4 L428.3,172.9 L431.0,172.9 L428.6,177.4 L434.4,171.3 L431.6,171.3 L433.9,167.4 Z" stroke="none" fill="#f8dc48" stroke-width="1" />
<rect x="492.5" y="169.4" width="3.8" height="3.8" fill="#8f8f8f"/>
<text transform="translate(516.4,173.8) scale(1,1.08)" x="0" y="0" font-size="8.8" fill="#000" stroke="#000" stroke-width="0.18" text-anchor="start" font-weight="normal" textLength="28.5" lengthAdjust="spacingAndGlyphs" >Vehicle</text>
<path d="M494.4,181.6 L496.5,185.4 L492.3,185.4 Z" stroke="none" fill="#1a3cf0" stroke-width="1" />
<text transform="translate(516.4,186.8) scale(1,1.08)" x="0" y="0" font-size="8.8" fill="#000" stroke="#000" stroke-width="0.18" text-anchor="start" font-weight="normal" textLength="20.7" lengthAdjust="spacingAndGlyphs" >MF-8</text>
<line x1="381.60" y1="121.50" x2="381.60" y2="125.50" stroke="#a0a0a0" stroke-width="0.9" />
<line x1="380.10" y1="121.50" x2="383.10" y2="121.50" stroke="#a0a0a0" stroke-width="0.9" />
<line x1="380.10" y1="125.50" x2="383.10" y2="125.50" stroke="#a0a0a0" stroke-width="0.9" />
<line x1="385.82" y1="119.50" x2="385.82" y2="124.50" stroke="#a0a0a0" stroke-width="0.9" />
<line x1="384.32" y1="119.50" x2="387.32" y2="119.50" stroke="#a0a0a0" stroke-width="0.9" />
<line x1="384.32" y1="124.50" x2="387.32" y2="124.50" stroke="#a0a0a0" stroke-width="0.9" />
<line x1="390.04" y1="117.20" x2="390.04" y2="123.20" stroke="#a0a0a0" stroke-width="0.9" />
<line x1="388.54" y1="117.20" x2="391.54" y2="117.20" stroke="#a0a0a0" stroke-width="0.9" />
<line x1="388.54" y1="123.20" x2="391.54" y2="123.20" stroke="#a0a0a0" stroke-width="0.9" />
<line x1="394.26" y1="115.50" x2="394.26" y2="120.50" stroke="#a0a0a0" stroke-width="0.9" />
<line x1="392.76" y1="115.50" x2="395.76" y2="115.50" stroke="#a0a0a0" stroke-width="0.9" />
<line x1="392.76" y1="120.50" x2="395.76" y2="120.50" stroke="#a0a0a0" stroke-width="0.9" />
<line x1="398.48" y1="118.80" x2="398.48" y2="134.80" stroke="#a0a0a0" stroke-width="0.9" />
<line x1="396.98" y1="118.80" x2="399.98" y2="118.80" stroke="#a0a0a0" stroke-width="0.9" />
<line x1="396.98" y1="134.80" x2="399.98" y2="134.80" stroke="#a0a0a0" stroke-width="0.9" />
<line x1="402.70" y1="120.00" x2="402.70" y2="128.00" stroke="#a0a0a0" stroke-width="0.9" />
<line x1="401.20" y1="120.00" x2="404.20" y2="120.00" stroke="#a0a0a0" stroke-width="0.9" />
<line x1="401.20" y1="128.00" x2="404.20" y2="128.00" stroke="#a0a0a0" stroke-width="0.9" />
<line x1="406.92" y1="117.50" x2="406.92" y2="123.50" stroke="#a0a0a0" stroke-width="0.9" />
<line x1="405.42" y1="117.50" x2="408.42" y2="117.50" stroke="#a0a0a0" stroke-width="0.9" />
<line x1="405.42" y1="123.50" x2="408.42" y2="123.50" stroke="#a0a0a0" stroke-width="0.9" />
<line x1="411.14" y1="116.50" x2="411.14" y2="121.50" stroke="#a0a0a0" stroke-width="0.9" />
<line x1="409.64" y1="116.50" x2="412.64" y2="116.50" stroke="#a0a0a0" stroke-width="0.9" />
<line x1="409.64" y1="121.50" x2="412.64" y2="121.50" stroke="#a0a0a0" stroke-width="0.9" />
<line x1="415.36" y1="114.90" x2="415.36" y2="119.90" stroke="#a0a0a0" stroke-width="0.9" />
<line x1="413.86" y1="114.90" x2="416.86" y2="114.90" stroke="#a0a0a0" stroke-width="0.9" />
<line x1="413.86" y1="119.90" x2="416.86" y2="119.90" stroke="#a0a0a0" stroke-width="0.9" />
<line x1="419.58" y1="118.00" x2="419.58" y2="123.00" stroke="#a0a0a0" stroke-width="0.9" />
<line x1="418.08" y1="118.00" x2="421.08" y2="118.00" stroke="#a0a0a0" stroke-width="0.9" />
<line x1="418.08" y1="123.00" x2="421.08" y2="123.00" stroke="#a0a0a0" stroke-width="0.9" />
<line x1="428.00" y1="102.63" x2="428.00" y2="139.83" stroke="#a0a0a0" stroke-width="0.9" />
<line x1="426.50" y1="102.63" x2="429.50" y2="102.63" stroke="#a0a0a0" stroke-width="0.9" />
<line x1="426.50" y1="139.83" x2="429.50" y2="139.83" stroke="#a0a0a0" stroke-width="0.9" />
<line x1="430.77" y1="85.92" x2="430.77" y2="134.92" stroke="#a0a0a0" stroke-width="0.9" />
<line x1="429.27" y1="85.92" x2="432.27" y2="85.92" stroke="#a0a0a0" stroke-width="0.9" />
<line x1="429.27" y1="134.92" x2="432.27" y2="134.92" stroke="#a0a0a0" stroke-width="0.9" />
<line x1="433.54" y1="92.05" x2="433.54" y2="126.05" stroke="#a0a0a0" stroke-width="0.9" />
<line x1="432.04" y1="92.05" x2="435.04" y2="92.05" stroke="#a0a0a0" stroke-width="0.9" />
<line x1="432.04" y1="126.05" x2="435.04" y2="126.05" stroke="#a0a0a0" stroke-width="0.9" />
<line x1="436.31" y1="95.39" x2="436.31" y2="121.39" stroke="#a0a0a0" stroke-width="0.9" />
<line x1="434.81" y1="95.39" x2="437.81" y2="95.39" stroke="#a0a0a0" stroke-width="0.9" />
<line x1="434.81" y1="121.39" x2="437.81" y2="121.39" stroke="#a0a0a0" stroke-width="0.9" />
<line x1="439.08" y1="94.31" x2="439.08" y2="116.31" stroke="#a0a0a0" stroke-width="0.9" />
<line x1="437.58" y1="94.31" x2="440.58" y2="94.31" stroke="#a0a0a0" stroke-width="0.9" />
<line x1="437.58" y1="116.31" x2="440.58" y2="116.31" stroke="#a0a0a0" stroke-width="0.9" />
<line x1="441.85" y1="92.76" x2="441.85" y2="113.55" stroke="#a0a0a0" stroke-width="0.9" />
<line x1="440.35" y1="92.76" x2="443.35" y2="92.76" stroke="#a0a0a0" stroke-width="0.9" />
<line x1="440.35" y1="113.55" x2="443.35" y2="113.55" stroke="#a0a0a0" stroke-width="0.9" />
<line x1="444.62" y1="94.78" x2="444.62" y2="109.87" stroke="#a0a0a0" stroke-width="0.9" />
<line x1="443.12" y1="94.78" x2="446.12" y2="94.78" stroke="#a0a0a0" stroke-width="0.9" />
<line x1="443.12" y1="109.87" x2="446.12" y2="109.87" stroke="#a0a0a0" stroke-width="0.9" />
<line x1="447.39" y1="91.82" x2="447.39" y2="108.28" stroke="#a0a0a0" stroke-width="0.9" />
<line x1="445.89" y1="91.82" x2="448.89" y2="91.82" stroke="#a0a0a0" stroke-width="0.9" />
<line x1="445.89" y1="108.28" x2="448.89" y2="108.28" stroke="#a0a0a0" stroke-width="0.9" />
<line x1="450.16" y1="89.70" x2="450.16" y2="109.75" stroke="#a0a0a0" stroke-width="0.9" />
<line x1="448.66" y1="89.70" x2="451.66" y2="89.70" stroke="#a0a0a0" stroke-width="0.9" />
<line x1="448.66" y1="109.75" x2="451.66" y2="109.75" stroke="#a0a0a0" stroke-width="0.9" />
<line x1="452.93" y1="89.83" x2="452.93" y2="108.80" stroke="#a0a0a0" stroke-width="0.9" />
<line x1="451.43" y1="89.83" x2="454.43" y2="89.83" stroke="#a0a0a0" stroke-width="0.9" />
<line x1="451.43" y1="108.80" x2="454.43" y2="108.80" stroke="#a0a0a0" stroke-width="0.9" />
<line x1="455.70" y1="87.56" x2="455.70" y2="108.53" stroke="#a0a0a0" stroke-width="0.9" />
<line x1="454.20" y1="87.56" x2="457.20" y2="87.56" stroke="#a0a0a0" stroke-width="0.9" />
<line x1="454.20" y1="108.53" x2="457.20" y2="108.53" stroke="#a0a0a0" stroke-width="0.9" />
<line x1="458.47" y1="89.85" x2="458.47" y2="106.23" stroke="#a0a0a0" stroke-width="0.9" />
<line x1="456.97" y1="89.85" x2="459.97" y2="89.85" stroke="#a0a0a0" stroke-width="0.9" />
<line x1="456.97" y1="106.23" x2="459.97" y2="106.23" stroke="#a0a0a0" stroke-width="0.9" />
<line x1="461.24" y1="87.63" x2="461.24" y2="105.03" stroke="#a0a0a0" stroke-width="0.9" />
<line x1="459.74" y1="87.63" x2="462.74" y2="87.63" stroke="#a0a0a0" stroke-width="0.9" />
<line x1="459.74" y1="105.03" x2="462.74" y2="105.03" stroke="#a0a0a0" stroke-width="0.9" />
<line x1="464.01" y1="86.10" x2="464.01" y2="106.18" stroke="#a0a0a0" stroke-width="0.9" />
<line x1="462.51" y1="86.10" x2="465.51" y2="86.10" stroke="#a0a0a0" stroke-width="0.9" />
<line x1="462.51" y1="106.18" x2="465.51" y2="106.18" stroke="#a0a0a0" stroke-width="0.9" />
<line x1="466.78" y1="86.39" x2="466.78" y2="104.21" stroke="#a0a0a0" stroke-width="0.9" />
<line x1="465.28" y1="86.39" x2="468.28" y2="86.39" stroke="#a0a0a0" stroke-width="0.9" />
<line x1="465.28" y1="104.21" x2="468.28" y2="104.21" stroke="#a0a0a0" stroke-width="0.9" />
<line x1="469.55" y1="85.66" x2="469.55" y2="104.43" stroke="#a0a0a0" stroke-width="0.9" />
<line x1="468.05" y1="85.66" x2="471.05" y2="85.66" stroke="#a0a0a0" stroke-width="0.9" />
<line x1="468.05" y1="104.43" x2="471.05" y2="104.43" stroke="#a0a0a0" stroke-width="0.9" />
<line x1="472.32" y1="87.67" x2="472.32" y2="104.67" stroke="#a0a0a0" stroke-width="0.9" />
<line x1="470.82" y1="87.67" x2="473.82" y2="87.67" stroke="#a0a0a0" stroke-width="0.9" />
<line x1="470.82" y1="104.67" x2="473.82" y2="104.67" stroke="#a0a0a0" stroke-width="0.9" />
<line x1="475.09" y1="89.61" x2="475.09" y2="106.08" stroke="#a0a0a0" stroke-width="0.9" />
<line x1="473.59" y1="89.61" x2="476.59" y2="89.61" stroke="#a0a0a0" stroke-width="0.9" />
<line x1="473.59" y1="106.08" x2="476.59" y2="106.08" stroke="#a0a0a0" stroke-width="0.9" />
<line x1="477.86" y1="84.81" x2="477.86" y2="100.87" stroke="#a0a0a0" stroke-width="0.9" />
<line x1="476.36" y1="84.81" x2="479.36" y2="84.81" stroke="#a0a0a0" stroke-width="0.9" />
<line x1="476.36" y1="100.87" x2="479.36" y2="100.87" stroke="#a0a0a0" stroke-width="0.9" />
<line x1="480.63" y1="80.81" x2="480.63" y2="100.20" stroke="#a0a0a0" stroke-width="0.9" />
<line x1="479.13" y1="80.81" x2="482.13" y2="80.81" stroke="#a0a0a0" stroke-width="0.9" />
<line x1="479.13" y1="100.20" x2="482.13" y2="100.20" stroke="#a0a0a0" stroke-width="0.9" />
<line x1="483.40" y1="80.67" x2="483.40" y2="98.19" stroke="#a0a0a0" stroke-width="0.9" />
<line x1="481.90" y1="80.67" x2="484.90" y2="80.67" stroke="#a0a0a0" stroke-width="0.9" />
<line x1="481.90" y1="98.19" x2="484.90" y2="98.19" stroke="#a0a0a0" stroke-width="0.9" />
<line x1="486.17" y1="77.54" x2="486.17" y2="97.36" stroke="#a0a0a0" stroke-width="0.9" />
<line x1="484.67" y1="77.54" x2="487.67" y2="77.54" stroke="#a0a0a0" stroke-width="0.9" />
<line x1="484.67" y1="97.36" x2="487.67" y2="97.36" stroke="#a0a0a0" stroke-width="0.9" />
<line x1="488.94" y1="78.36" x2="488.94" y2="95.73" stroke="#a0a0a0" stroke-width="0.9" />
<line x1="487.44" y1="78.36" x2="490.44" y2="78.36" stroke="#a0a0a0" stroke-width="0.9" />
<line x1="487.44" y1="95.73" x2="490.44" y2="95.73" stroke="#a0a0a0" stroke-width="0.9" />
<line x1="491.71" y1="74.80" x2="491.71" y2="95.74" stroke="#a0a0a0" stroke-width="0.9" />
<line x1="490.21" y1="74.80" x2="493.21" y2="74.80" stroke="#a0a0a0" stroke-width="0.9" />
<line x1="490.21" y1="95.74" x2="493.21" y2="95.74" stroke="#a0a0a0" stroke-width="0.9" />
<line x1="494.48" y1="74.79" x2="494.48" y2="91.76" stroke="#a0a0a0" stroke-width="0.9" />
<line x1="492.98" y1="74.79" x2="495.98" y2="74.79" stroke="#a0a0a0" stroke-width="0.9" />
<line x1="492.98" y1="91.76" x2="495.98" y2="91.76" stroke="#a0a0a0" stroke-width="0.9" />
<line x1="497.25" y1="74.74" x2="497.25" y2="93.23" stroke="#a0a0a0" stroke-width="0.9" />
<line x1="495.75" y1="74.74" x2="498.75" y2="74.74" stroke="#a0a0a0" stroke-width="0.9" />
<line x1="495.75" y1="93.23" x2="498.75" y2="93.23" stroke="#a0a0a0" stroke-width="0.9" />
<line x1="500.02" y1="77.20" x2="500.02" y2="94.92" stroke="#a0a0a0" stroke-width="0.9" />
<line x1="498.52" y1="77.20" x2="501.52" y2="77.20" stroke="#a0a0a0" stroke-width="0.9" />
<line x1="498.52" y1="94.92" x2="501.52" y2="94.92" stroke="#a0a0a0" stroke-width="0.9" />
<line x1="502.79" y1="75.77" x2="502.79" y2="95.97" stroke="#a0a0a0" stroke-width="0.9" />
<line x1="501.29" y1="75.77" x2="504.29" y2="75.77" stroke="#a0a0a0" stroke-width="0.9" />
<line x1="501.29" y1="95.97" x2="504.29" y2="95.97" stroke="#a0a0a0" stroke-width="0.9" />
<line x1="505.56" y1="76.67" x2="505.56" y2="96.58" stroke="#a0a0a0" stroke-width="0.9" />
<line x1="504.06" y1="76.67" x2="507.06" y2="76.67" stroke="#a0a0a0" stroke-width="0.9" />
<line x1="504.06" y1="96.58" x2="507.06" y2="96.58" stroke="#a0a0a0" stroke-width="0.9" />
<line x1="508.33" y1="77.61" x2="508.33" y2="98.26" stroke="#a0a0a0" stroke-width="0.9" />
<line x1="506.83" y1="77.61" x2="509.83" y2="77.61" stroke="#a0a0a0" stroke-width="0.9" />
<line x1="506.83" y1="98.26" x2="509.83" y2="98.26" stroke="#a0a0a0" stroke-width="0.9" />
<line x1="511.10" y1="78.41" x2="511.10" y2="97.03" stroke="#a0a0a0" stroke-width="0.9" />
<line x1="509.60" y1="78.41" x2="512.60" y2="78.41" stroke="#a0a0a0" stroke-width="0.9" />
<line x1="509.60" y1="97.03" x2="512.60" y2="97.03" stroke="#a0a0a0" stroke-width="0.9" />
<line x1="513.87" y1="74.59" x2="513.87" y2="95.37" stroke="#a0a0a0" stroke-width="0.9" />
<line x1="512.37" y1="74.59" x2="515.37" y2="74.59" stroke="#a0a0a0" stroke-width="0.9" />
<line x1="512.37" y1="95.37" x2="515.37" y2="95.37" stroke="#a0a0a0" stroke-width="0.9" />
<line x1="516.64" y1="74.46" x2="516.64" y2="94.41" stroke="#a0a0a0" stroke-width="0.9" />
<line x1="515.14" y1="74.46" x2="518.14" y2="74.46" stroke="#a0a0a0" stroke-width="0.9" />
<line x1="515.14" y1="94.41" x2="518.14" y2="94.41" stroke="#a0a0a0" stroke-width="0.9" />
<line x1="519.41" y1="72.27" x2="519.41" y2="91.59" stroke="#a0a0a0" stroke-width="0.9" />
<line x1="517.91" y1="72.27" x2="520.91" y2="72.27" stroke="#a0a0a0" stroke-width="0.9" />
<line x1="517.91" y1="91.59" x2="520.91" y2="91.59" stroke="#a0a0a0" stroke-width="0.9" />
<line x1="522.18" y1="70.71" x2="522.18" y2="90.83" stroke="#a0a0a0" stroke-width="0.9" />
<line x1="520.68" y1="70.71" x2="523.68" y2="70.71" stroke="#a0a0a0" stroke-width="0.9" />
<line x1="520.68" y1="90.83" x2="523.68" y2="90.83" stroke="#a0a0a0" stroke-width="0.9" />
<line x1="524.95" y1="72.55" x2="524.95" y2="88.77" stroke="#a0a0a0" stroke-width="0.9" />
<line x1="523.45" y1="72.55" x2="526.45" y2="72.55" stroke="#a0a0a0" stroke-width="0.9" />
<line x1="523.45" y1="88.77" x2="526.45" y2="88.77" stroke="#a0a0a0" stroke-width="0.9" />
<line x1="527.72" y1="73.65" x2="527.72" y2="89.02" stroke="#a0a0a0" stroke-width="0.9" />
<line x1="526.22" y1="73.65" x2="529.22" y2="73.65" stroke="#a0a0a0" stroke-width="0.9" />
<line x1="526.22" y1="89.02" x2="529.22" y2="89.02" stroke="#a0a0a0" stroke-width="0.9" />
<line x1="530.49" y1="74.29" x2="530.49" y2="90.08" stroke="#a0a0a0" stroke-width="0.9" />
<line x1="528.99" y1="74.29" x2="531.99" y2="74.29" stroke="#a0a0a0" stroke-width="0.9" />
<line x1="528.99" y1="90.08" x2="531.99" y2="90.08" stroke="#a0a0a0" stroke-width="0.9" />
<line x1="533.26" y1="74.24" x2="533.26" y2="93.19" stroke="#a0a0a0" stroke-width="0.9" />
<line x1="531.76" y1="74.24" x2="534.76" y2="74.24" stroke="#a0a0a0" stroke-width="0.9" />
<line x1="531.76" y1="93.19" x2="534.76" y2="93.19" stroke="#a0a0a0" stroke-width="0.9" />
<line x1="536.03" y1="76.31" x2="536.03" y2="91.52" stroke="#a0a0a0" stroke-width="0.9" />
<line x1="534.53" y1="76.31" x2="537.53" y2="76.31" stroke="#a0a0a0" stroke-width="0.9" />
<line x1="534.53" y1="91.52" x2="537.53" y2="91.52" stroke="#a0a0a0" stroke-width="0.9" />
<line x1="538.80" y1="74.74" x2="538.80" y2="95.52" stroke="#a0a0a0" stroke-width="0.9" />
<line x1="537.30" y1="74.74" x2="540.30" y2="74.74" stroke="#a0a0a0" stroke-width="0.9" />
<line x1="537.30" y1="95.52" x2="540.30" y2="95.52" stroke="#a0a0a0" stroke-width="0.9" />
<line x1="541.57" y1="78.15" x2="541.57" y2="97.54" stroke="#a0a0a0" stroke-width="0.9" />
<line x1="540.07" y1="78.15" x2="543.07" y2="78.15" stroke="#a0a0a0" stroke-width="0.9" />
<line x1="540.07" y1="97.54" x2="543.07" y2="97.54" stroke="#a0a0a0" stroke-width="0.9" />
<line x1="544.34" y1="81.70" x2="544.34" y2="99.98" stroke="#a0a0a0" stroke-width="0.9" />
<line x1="542.84" y1="81.70" x2="545.84" y2="81.70" stroke="#a0a0a0" stroke-width="0.9" />
<line x1="542.84" y1="99.98" x2="545.84" y2="99.98" stroke="#a0a0a0" stroke-width="0.9" />
<line x1="547.11" y1="81.63" x2="547.11" y2="100.85" stroke="#a0a0a0" stroke-width="0.9" />
<line x1="545.61" y1="81.63" x2="548.61" y2="81.63" stroke="#a0a0a0" stroke-width="0.9" />
<line x1="545.61" y1="100.85" x2="548.61" y2="100.85" stroke="#a0a0a0" stroke-width="0.9" />
<line x1="549.88" y1="81.71" x2="549.88" y2="100.82" stroke="#a0a0a0" stroke-width="0.9" />
<line x1="548.38" y1="81.71" x2="551.38" y2="81.71" stroke="#a0a0a0" stroke-width="0.9" />
<line x1="548.38" y1="100.82" x2="551.38" y2="100.82" stroke="#a0a0a0" stroke-width="0.9" />
<line x1="552.65" y1="79.57" x2="552.65" y2="99.32" stroke="#a0a0a0" stroke-width="0.9" />
<line x1="551.15" y1="79.57" x2="554.15" y2="79.57" stroke="#a0a0a0" stroke-width="0.9" />
<line x1="551.15" y1="99.32" x2="554.15" y2="99.32" stroke="#a0a0a0" stroke-width="0.9" />
<line x1="555.42" y1="77.55" x2="555.42" y2="94.84" stroke="#a0a0a0" stroke-width="0.9" />
<line x1="553.92" y1="77.55" x2="556.92" y2="77.55" stroke="#a0a0a0" stroke-width="0.9" />
<line x1="553.92" y1="94.84" x2="556.92" y2="94.84" stroke="#a0a0a0" stroke-width="0.9" />
<line x1="381.60" y1="124.70" x2="381.60" y2="127.70" stroke="#3a5cf5" stroke-width="0.9" />
<line x1="380.10" y1="124.70" x2="383.10" y2="124.70" stroke="#3a5cf5" stroke-width="0.9" />
<line x1="380.10" y1="127.70" x2="383.10" y2="127.70" stroke="#3a5cf5" stroke-width="0.9" />
<line x1="385.82" y1="125.30" x2="385.82" y2="128.30" stroke="#3a5cf5" stroke-width="0.9" />
<line x1="384.32" y1="125.30" x2="387.32" y2="125.30" stroke="#3a5cf5" stroke-width="0.9" />
<line x1="384.32" y1="128.30" x2="387.32" y2="128.30" stroke="#3a5cf5" stroke-width="0.9" />
<line x1="390.04" y1="122.00" x2="390.04" y2="126.00" stroke="#3a5cf5" stroke-width="0.9" />
<line x1="388.54" y1="122.00" x2="391.54" y2="122.00" stroke="#3a5cf5" stroke-width="0.9" />
<line x1="388.54" y1="126.00" x2="391.54" y2="126.00" stroke="#3a5cf5" stroke-width="0.9" />
<line x1="394.26" y1="117.00" x2="394.26" y2="122.00" stroke="#3a5cf5" stroke-width="0.9" />
<line x1="392.76" y1="117.00" x2="395.76" y2="117.00" stroke="#3a5cf5" stroke-width="0.9" />
<line x1="392.76" y1="122.00" x2="395.76" y2="122.00" stroke="#3a5cf5" stroke-width="0.9" />
<line x1="398.48" y1="115.40" x2="398.48" y2="119.40" stroke="#3a5cf5" stroke-width="0.9" />
<line x1="396.98" y1="115.40" x2="399.98" y2="115.40" stroke="#3a5cf5" stroke-width="0.9" />
<line x1="396.98" y1="119.40" x2="399.98" y2="119.40" stroke="#3a5cf5" stroke-width="0.9" />
<line x1="402.70" y1="115.40" x2="402.70" y2="119.40" stroke="#3a5cf5" stroke-width="0.9" />
<line x1="401.20" y1="115.40" x2="404.20" y2="115.40" stroke="#3a5cf5" stroke-width="0.9" />
<line x1="401.20" y1="119.40" x2="404.20" y2="119.40" stroke="#3a5cf5" stroke-width="0.9" />
<line x1="406.92" y1="122.20" x2="406.92" y2="125.20" stroke="#3a5cf5" stroke-width="0.9" />
<line x1="405.42" y1="122.20" x2="408.42" y2="122.20" stroke="#3a5cf5" stroke-width="0.9" />
<line x1="405.42" y1="125.20" x2="408.42" y2="125.20" stroke="#3a5cf5" stroke-width="0.9" />
<line x1="411.14" y1="121.50" x2="411.14" y2="124.50" stroke="#3a5cf5" stroke-width="0.9" />
<line x1="409.64" y1="121.50" x2="412.64" y2="121.50" stroke="#3a5cf5" stroke-width="0.9" />
<line x1="409.64" y1="124.50" x2="412.64" y2="124.50" stroke="#3a5cf5" stroke-width="0.9" />
<line x1="415.36" y1="122.20" x2="415.36" y2="125.20" stroke="#3a5cf5" stroke-width="0.9" />
<line x1="413.86" y1="122.20" x2="416.86" y2="122.20" stroke="#3a5cf5" stroke-width="0.9" />
<line x1="413.86" y1="125.20" x2="416.86" y2="125.20" stroke="#3a5cf5" stroke-width="0.9" />
<line x1="419.58" y1="122.20" x2="419.58" y2="125.20" stroke="#3a5cf5" stroke-width="0.9" />
<line x1="418.08" y1="122.20" x2="421.08" y2="122.20" stroke="#3a5cf5" stroke-width="0.9" />
<line x1="418.08" y1="125.20" x2="421.08" y2="125.20" stroke="#3a5cf5" stroke-width="0.9" />
<line x1="428.00" y1="123.28" x2="428.00" y2="158.82" stroke="#3a5cf5" stroke-width="0.9" />
<line x1="426.50" y1="123.28" x2="429.50" y2="123.28" stroke="#3a5cf5" stroke-width="0.9" />
<line x1="426.50" y1="158.82" x2="429.50" y2="158.82" stroke="#3a5cf5" stroke-width="0.9" />
<line x1="430.77" y1="123.40" x2="430.77" y2="156.93" stroke="#3a5cf5" stroke-width="0.9" />
<line x1="429.27" y1="123.40" x2="432.27" y2="123.40" stroke="#3a5cf5" stroke-width="0.9" />
<line x1="429.27" y1="156.93" x2="432.27" y2="156.93" stroke="#3a5cf5" stroke-width="0.9" />
<line x1="433.54" y1="121.44" x2="433.54" y2="155.22" stroke="#3a5cf5" stroke-width="0.9" />
<line x1="432.04" y1="121.44" x2="435.04" y2="121.44" stroke="#3a5cf5" stroke-width="0.9" />
<line x1="432.04" y1="155.22" x2="435.04" y2="155.22" stroke="#3a5cf5" stroke-width="0.9" />
<line x1="436.31" y1="123.87" x2="436.31" y2="147.69" stroke="#3a5cf5" stroke-width="0.9" />
<line x1="434.81" y1="123.87" x2="437.81" y2="123.87" stroke="#3a5cf5" stroke-width="0.9" />
<line x1="434.81" y1="147.69" x2="437.81" y2="147.69" stroke="#3a5cf5" stroke-width="0.9" />
<line x1="439.08" y1="120.90" x2="439.08" y2="147.06" stroke="#3a5cf5" stroke-width="0.9" />
<line x1="437.58" y1="120.90" x2="440.58" y2="120.90" stroke="#3a5cf5" stroke-width="0.9" />
<line x1="437.58" y1="147.06" x2="440.58" y2="147.06" stroke="#3a5cf5" stroke-width="0.9" />
<line x1="441.85" y1="116.45" x2="441.85" y2="142.37" stroke="#3a5cf5" stroke-width="0.9" />
<line x1="440.35" y1="116.45" x2="443.35" y2="116.45" stroke="#3a5cf5" stroke-width="0.9" />
<line x1="440.35" y1="142.37" x2="443.35" y2="142.37" stroke="#3a5cf5" stroke-width="0.9" />
<line x1="444.62" y1="114.29" x2="444.62" y2="139.46" stroke="#3a5cf5" stroke-width="0.9" />
<line x1="443.12" y1="114.29" x2="446.12" y2="114.29" stroke="#3a5cf5" stroke-width="0.9" />
<line x1="443.12" y1="139.46" x2="446.12" y2="139.46" stroke="#3a5cf5" stroke-width="0.9" />
<line x1="447.39" y1="118.16" x2="447.39" y2="140.34" stroke="#3a5cf5" stroke-width="0.9" />
<line x1="445.89" y1="118.16" x2="448.89" y2="118.16" stroke="#3a5cf5" stroke-width="0.9" />
<line x1="445.89" y1="140.34" x2="448.89" y2="140.34" stroke="#3a5cf5" stroke-width="0.9" />
<line x1="450.16" y1="113.40" x2="450.16" y2="138.52" stroke="#3a5cf5" stroke-width="0.9" />
<line x1="448.66" y1="113.40" x2="451.66" y2="113.40" stroke="#3a5cf5" stroke-width="0.9" />
<line x1="448.66" y1="138.52" x2="451.66" y2="138.52" stroke="#3a5cf5" stroke-width="0.9" />
<line x1="452.93" y1="111.06" x2="452.93" y2="135.80" stroke="#3a5cf5" stroke-width="0.9" />
<line x1="451.43" y1="111.06" x2="454.43" y2="111.06" stroke="#3a5cf5" stroke-width="0.9" />
<line x1="451.43" y1="135.80" x2="454.43" y2="135.80" stroke="#3a5cf5" stroke-width="0.9" />
<line x1="455.70" y1="108.63" x2="455.70" y2="135.67" stroke="#3a5cf5" stroke-width="0.9" />
<line x1="454.20" y1="108.63" x2="457.20" y2="108.63" stroke="#3a5cf5" stroke-width="0.9" />
<line x1="454.20" y1="135.67" x2="457.20" y2="135.67" stroke="#3a5cf5" stroke-width="0.9" />
<line x1="458.47" y1="109.49" x2="458.47" y2="133.22" stroke="#3a5cf5" stroke-width="0.9" />
<line x1="456.97" y1="109.49" x2="459.97" y2="109.49" stroke="#3a5cf5" stroke-width="0.9" />
<line x1="456.97" y1="133.22" x2="459.97" y2="133.22" stroke="#3a5cf5" stroke-width="0.9" />
<line x1="461.24" y1="109.50" x2="461.24" y2="136.58" stroke="#3a5cf5" stroke-width="0.9" />
<line x1="459.74" y1="109.50" x2="462.74" y2="109.50" stroke="#3a5cf5" stroke-width="0.9" />
<line x1="459.74" y1="136.58" x2="462.74" y2="136.58" stroke="#3a5cf5" stroke-width="0.9" />
<line x1="464.01" y1="112.82" x2="464.01" y2="134.82" stroke="#3a5cf5" stroke-width="0.9" />
<line x1="462.51" y1="112.82" x2="465.51" y2="112.82" stroke="#3a5cf5" stroke-width="0.9" />
<line x1="462.51" y1="134.82" x2="465.51" y2="134.82" stroke="#3a5cf5" stroke-width="0.9" />
<line x1="466.78" y1="110.19" x2="466.78" y2="138.08" stroke="#3a5cf5" stroke-width="0.9" />
<line x1="465.28" y1="110.19" x2="468.28" y2="110.19" stroke="#3a5cf5" stroke-width="0.9" />
<line x1="465.28" y1="138.08" x2="468.28" y2="138.08" stroke="#3a5cf5" stroke-width="0.9" />
<line x1="469.55" y1="108.75" x2="469.55" y2="135.43" stroke="#3a5cf5" stroke-width="0.9" />
<line x1="468.05" y1="108.75" x2="471.05" y2="108.75" stroke="#3a5cf5" stroke-width="0.9" />
<line x1="468.05" y1="135.43" x2="471.05" y2="135.43" stroke="#3a5cf5" stroke-width="0.9" />
<line x1="472.32" y1="107.70" x2="472.32" y2="135.48" stroke="#3a5cf5" stroke-width="0.9" />
<line x1="470.82" y1="107.70" x2="473.82" y2="107.70" stroke="#3a5cf5" stroke-width="0.9" />
<line x1="470.82" y1="135.48" x2="473.82" y2="135.48" stroke="#3a5cf5" stroke-width="0.9" />
<line x1="475.09" y1="110.60" x2="475.09" y2="133.21" stroke="#3a5cf5" stroke-width="0.9" />
<line x1="473.59" y1="110.60" x2="476.59" y2="110.60" stroke="#3a5cf5" stroke-width="0.9" />
<line x1="473.59" y1="133.21" x2="476.59" y2="133.21" stroke="#3a5cf5" stroke-width="0.9" />
<line x1="477.86" y1="110.41" x2="477.86" y2="135.77" stroke="#3a5cf5" stroke-width="0.9" />
<line x1="476.36" y1="110.41" x2="479.36" y2="110.41" stroke="#3a5cf5" stroke-width="0.9" />
<line x1="476.36" y1="135.77" x2="479.36" y2="135.77" stroke="#3a5cf5" stroke-width="0.9" />
<line x1="480.63" y1="110.46" x2="480.63" y2="133.25" stroke="#3a5cf5" stroke-width="0.9" />
<line x1="479.13" y1="110.46" x2="482.13" y2="110.46" stroke="#3a5cf5" stroke-width="0.9" />
<line x1="479.13" y1="133.25" x2="482.13" y2="133.25" stroke="#3a5cf5" stroke-width="0.9" />
<line x1="483.40" y1="110.25" x2="483.40" y2="133.53" stroke="#3a5cf5" stroke-width="0.9" />
<line x1="481.90" y1="110.25" x2="484.90" y2="110.25" stroke="#3a5cf5" stroke-width="0.9" />
<line x1="481.90" y1="133.53" x2="484.90" y2="133.53" stroke="#3a5cf5" stroke-width="0.9" />
<line x1="486.17" y1="112.03" x2="486.17" y2="135.86" stroke="#3a5cf5" stroke-width="0.9" />
<line x1="484.67" y1="112.03" x2="487.67" y2="112.03" stroke="#3a5cf5" stroke-width="0.9" />
<line x1="484.67" y1="135.86" x2="487.67" y2="135.86" stroke="#3a5cf5" stroke-width="0.9" />
<line x1="488.94" y1="108.94" x2="488.94" y2="136.07" stroke="#3a5cf5" stroke-width="0.9" />
<line x1="487.44" y1="108.94" x2="490.44" y2="108.94" stroke="#3a5cf5" stroke-width="0.9" />
<line x1="487.44" y1="136.07" x2="490.44" y2="136.07" stroke="#3a5cf5" stroke-width="0.9" />
<line x1="491.71" y1="109.73" x2="491.71" y2="133.01" stroke="#3a5cf5" stroke-width="0.9" />
<line x1="490.21" y1="109.73" x2="493.21" y2="109.73" stroke="#3a5cf5" stroke-width="0.9" />
<line x1="490.21" y1="133.01" x2="493.21" y2="133.01" stroke="#3a5cf5" stroke-width="0.9" />
<line x1="494.48" y1="108.73" x2="494.48" y2="132.51" stroke="#3a5cf5" stroke-width="0.9" />
<line x1="492.98" y1="108.73" x2="495.98" y2="108.73" stroke="#3a5cf5" stroke-width="0.9" />
<line x1="492.98" y1="132.51" x2="495.98" y2="132.51" stroke="#3a5cf5" stroke-width="0.9" />
<line x1="497.25" y1="109.07" x2="497.25" y2="132.53" stroke="#3a5cf5" stroke-width="0.9" />
<line x1="495.75" y1="109.07" x2="498.75" y2="109.07" stroke="#3a5cf5" stroke-width="0.9" />
<line x1="495.75" y1="132.53" x2="498.75" y2="132.53" stroke="#3a5cf5" stroke-width="0.9" />
<line x1="500.02" y1="109.87" x2="500.02" y2="137.63" stroke="#3a5cf5" stroke-width="0.9" />
<line x1="498.52" y1="109.87" x2="501.52" y2="109.87" stroke="#3a5cf5" stroke-width="0.9" />
<line x1="498.52" y1="137.63" x2="501.52" y2="137.63" stroke="#3a5cf5" stroke-width="0.9" />
<line x1="502.79" y1="113.10" x2="502.79" y2="136.20" stroke="#3a5cf5" stroke-width="0.9" />
<line x1="501.29" y1="113.10" x2="504.29" y2="113.10" stroke="#3a5cf5" stroke-width="0.9" />
<line x1="501.29" y1="136.20" x2="504.29" y2="136.20" stroke="#3a5cf5" stroke-width="0.9" />
<line x1="505.56" y1="113.70" x2="505.56" y2="137.20" stroke="#3a5cf5" stroke-width="0.9" />
<line x1="504.06" y1="113.70" x2="507.06" y2="113.70" stroke="#3a5cf5" stroke-width="0.9" />
<line x1="504.06" y1="137.20" x2="507.06" y2="137.20" stroke="#3a5cf5" stroke-width="0.9" />
<line x1="508.33" y1="114.29" x2="508.33" y2="137.47" stroke="#3a5cf5" stroke-width="0.9" />
<line x1="506.83" y1="114.29" x2="509.83" y2="114.29" stroke="#3a5cf5" stroke-width="0.9" />
<line x1="506.83" y1="137.47" x2="509.83" y2="137.47" stroke="#3a5cf5" stroke-width="0.9" />
<line x1="511.10" y1="115.11" x2="511.10" y2="139.64" stroke="#3a5cf5" stroke-width="0.9" />
<line x1="509.60" y1="115.11" x2="512.60" y2="115.11" stroke="#3a5cf5" stroke-width="0.9" />
<line x1="509.60" y1="139.64" x2="512.60" y2="139.64" stroke="#3a5cf5" stroke-width="0.9" />
<line x1="513.87" y1="118.93" x2="513.87" y2="142.36" stroke="#3a5cf5" stroke-width="0.9" />
<line x1="512.37" y1="118.93" x2="515.37" y2="118.93" stroke="#3a5cf5" stroke-width="0.9" />
<line x1="512.37" y1="142.36" x2="515.37" y2="142.36" stroke="#3a5cf5" stroke-width="0.9" />
<line x1="516.64" y1="117.80" x2="516.64" y2="143.38" stroke="#3a5cf5" stroke-width="0.9" />
<line x1="515.14" y1="117.80" x2="518.14" y2="117.80" stroke="#3a5cf5" stroke-width="0.9" />
<line x1="515.14" y1="143.38" x2="518.14" y2="143.38" stroke="#3a5cf5" stroke-width="0.9" />
<line x1="519.41" y1="116.72" x2="519.41" y2="139.14" stroke="#3a5cf5" stroke-width="0.9" />
<line x1="517.91" y1="116.72" x2="520.91" y2="116.72" stroke="#3a5cf5" stroke-width="0.9" />
<line x1="517.91" y1="139.14" x2="520.91" y2="139.14" stroke="#3a5cf5" stroke-width="0.9" />
<line x1="522.18" y1="112.51" x2="522.18" y2="138.19" stroke="#3a5cf5" stroke-width="0.9" />
<line x1="520.68" y1="112.51" x2="523.68" y2="112.51" stroke="#3a5cf5" stroke-width="0.9" />
<line x1="520.68" y1="138.19" x2="523.68" y2="138.19" stroke="#3a5cf5" stroke-width="0.9" />
<line x1="524.95" y1="112.81" x2="524.95" y2="134.91" stroke="#3a5cf5" stroke-width="0.9" />
<line x1="523.45" y1="112.81" x2="526.45" y2="112.81" stroke="#3a5cf5" stroke-width="0.9" />
<line x1="523.45" y1="134.91" x2="526.45" y2="134.91" stroke="#3a5cf5" stroke-width="0.9" />
<line x1="527.72" y1="110.88" x2="527.72" y2="133.94" stroke="#3a5cf5" stroke-width="0.9" />
<line x1="526.22" y1="110.88" x2="529.22" y2="110.88" stroke="#3a5cf5" stroke-width="0.9" />
<line x1="526.22" y1="133.94" x2="529.22" y2="133.94" stroke="#3a5cf5" stroke-width="0.9" />
<line x1="530.49" y1="110.63" x2="530.49" y2="134.80" stroke="#3a5cf5" stroke-width="0.9" />
<line x1="528.99" y1="110.63" x2="531.99" y2="110.63" stroke="#3a5cf5" stroke-width="0.9" />
<line x1="528.99" y1="134.80" x2="531.99" y2="134.80" stroke="#3a5cf5" stroke-width="0.9" />
<line x1="533.26" y1="110.99" x2="533.26" y2="137.13" stroke="#3a5cf5" stroke-width="0.9" />
<line x1="531.76" y1="110.99" x2="534.76" y2="110.99" stroke="#3a5cf5" stroke-width="0.9" />
<line x1="531.76" y1="137.13" x2="534.76" y2="137.13" stroke="#3a5cf5" stroke-width="0.9" />
<line x1="536.03" y1="113.13" x2="536.03" y2="135.24" stroke="#3a5cf5" stroke-width="0.9" />
<line x1="534.53" y1="113.13" x2="537.53" y2="113.13" stroke="#3a5cf5" stroke-width="0.9" />
<line x1="534.53" y1="135.24" x2="537.53" y2="135.24" stroke="#3a5cf5" stroke-width="0.9" />
<line x1="538.80" y1="115.83" x2="538.80" y2="137.96" stroke="#3a5cf5" stroke-width="0.9" />
<line x1="537.30" y1="115.83" x2="540.30" y2="115.83" stroke="#3a5cf5" stroke-width="0.9" />
<line x1="537.30" y1="137.96" x2="540.30" y2="137.96" stroke="#3a5cf5" stroke-width="0.9" />
<line x1="541.57" y1="109.94" x2="541.57" y2="133.85" stroke="#3a5cf5" stroke-width="0.9" />
<line x1="540.07" y1="109.94" x2="543.07" y2="109.94" stroke="#3a5cf5" stroke-width="0.9" />
<line x1="540.07" y1="133.85" x2="543.07" y2="133.85" stroke="#3a5cf5" stroke-width="0.9" />
<line x1="544.34" y1="107.64" x2="544.34" y2="134.07" stroke="#3a5cf5" stroke-width="0.9" />
<line x1="542.84" y1="107.64" x2="545.84" y2="107.64" stroke="#3a5cf5" stroke-width="0.9" />
<line x1="542.84" y1="134.07" x2="545.84" y2="134.07" stroke="#3a5cf5" stroke-width="0.9" />
<line x1="547.11" y1="110.57" x2="547.11" y2="137.33" stroke="#3a5cf5" stroke-width="0.9" />
<line x1="545.61" y1="110.57" x2="548.61" y2="110.57" stroke="#3a5cf5" stroke-width="0.9" />
<line x1="545.61" y1="137.33" x2="548.61" y2="137.33" stroke="#3a5cf5" stroke-width="0.9" />
<line x1="549.88" y1="111.48" x2="549.88" y2="138.89" stroke="#3a5cf5" stroke-width="0.9" />
<line x1="548.38" y1="111.48" x2="551.38" y2="111.48" stroke="#3a5cf5" stroke-width="0.9" />
<line x1="548.38" y1="138.89" x2="551.38" y2="138.89" stroke="#3a5cf5" stroke-width="0.9" />
<line x1="552.65" y1="113.18" x2="552.65" y2="140.37" stroke="#3a5cf5" stroke-width="0.9" />
<line x1="551.15" y1="113.18" x2="554.15" y2="113.18" stroke="#3a5cf5" stroke-width="0.9" />
<line x1="551.15" y1="140.37" x2="554.15" y2="140.37" stroke="#3a5cf5" stroke-width="0.9" />
<line x1="555.42" y1="115.35" x2="555.42" y2="140.85" stroke="#3a5cf5" stroke-width="0.9" />
<line x1="553.92" y1="115.35" x2="556.92" y2="115.35" stroke="#3a5cf5" stroke-width="0.9" />
<line x1="553.92" y1="140.85" x2="556.92" y2="140.85" stroke="#3a5cf5" stroke-width="0.9" />
<rect x="379.70" y="121.60" width="3.8" height="3.8" fill="#8f8f8f"/>
<rect x="383.92" y="120.10" width="3.8" height="3.8" fill="#8f8f8f"/>
<rect x="388.14" y="118.30" width="3.8" height="3.8" fill="#8f8f8f"/>
<rect x="392.36" y="116.10" width="3.8" height="3.8" fill="#8f8f8f"/>
<rect x="396.58" y="124.90" width="3.8" height="3.8" fill="#8f8f8f"/>
<rect x="400.80" y="122.10" width="3.8" height="3.8" fill="#8f8f8f"/>
<rect x="405.02" y="118.60" width="3.8" height="3.8" fill="#8f8f8f"/>
<rect x="409.24" y="117.10" width="3.8" height="3.8" fill="#8f8f8f"/>
<rect x="413.46" y="115.50" width="3.8" height="3.8" fill="#8f8f8f"/>
<rect x="417.68" y="118.60" width="3.8" height="3.8" fill="#8f8f8f"/>
<rect x="426.10" y="119.33" width="3.8" height="3.8" fill="#8f8f8f"/>
<rect x="428.87" y="108.52" width="3.8" height="3.8" fill="#8f8f8f"/>
<rect x="431.64" y="107.15" width="3.8" height="3.8" fill="#8f8f8f"/>
<rect x="434.41" y="106.49" width="3.8" height="3.8" fill="#8f8f8f"/>
<rect x="437.18" y="103.41" width="3.8" height="3.8" fill="#8f8f8f"/>
<rect x="439.95" y="101.25" width="3.8" height="3.8" fill="#8f8f8f"/>
<rect x="442.72" y="100.42" width="3.8" height="3.8" fill="#8f8f8f"/>
<rect x="445.49" y="98.15" width="3.8" height="3.8" fill="#8f8f8f"/>
<rect x="448.26" y="97.83" width="3.8" height="3.8" fill="#8f8f8f"/>
<rect x="451.03" y="97.42" width="3.8" height="3.8" fill="#8f8f8f"/>
<rect x="453.80" y="96.15" width="3.8" height="3.8" fill="#8f8f8f"/>
<rect x="456.57" y="96.14" width="3.8" height="3.8" fill="#8f8f8f"/>
<rect x="459.34" y="94.43" width="3.8" height="3.8" fill="#8f8f8f"/>
<rect x="462.11" y="94.24" width="3.8" height="3.8" fill="#8f8f8f"/>
<rect x="464.88" y="93.40" width="3.8" height="3.8" fill="#8f8f8f"/>
<rect x="467.65" y="93.15" width="3.8" height="3.8" fill="#8f8f8f"/>
<rect x="470.42" y="94.27" width="3.8" height="3.8" fill="#8f8f8f"/>
<rect x="473.19" y="95.94" width="3.8" height="3.8" fill="#8f8f8f"/>
<rect x="475.96" y="90.94" width="3.8" height="3.8" fill="#8f8f8f"/>
<rect x="478.73" y="88.60" width="3.8" height="3.8" fill="#8f8f8f"/>
<rect x="481.50" y="87.53" width="3.8" height="3.8" fill="#8f8f8f"/>
<rect x="484.27" y="85.55" width="3.8" height="3.8" fill="#8f8f8f"/>
<rect x="487.04" y="85.15" width="3.8" height="3.8" fill="#8f8f8f"/>
<rect x="489.81" y="83.37" width="3.8" height="3.8" fill="#8f8f8f"/>
<rect x="492.58" y="81.37" width="3.8" height="3.8" fill="#8f8f8f"/>
<rect x="495.35" y="82.08" width="3.8" height="3.8" fill="#8f8f8f"/>
<rect x="498.12" y="84.16" width="3.8" height="3.8" fill="#8f8f8f"/>
<rect x="500.89" y="83.97" width="3.8" height="3.8" fill="#8f8f8f"/>
<rect x="503.66" y="84.73" width="3.8" height="3.8" fill="#8f8f8f"/>
<rect x="506.43" y="86.04" width="3.8" height="3.8" fill="#8f8f8f"/>
<rect x="509.20" y="85.82" width="3.8" height="3.8" fill="#8f8f8f"/>
<rect x="511.97" y="83.08" width="3.8" height="3.8" fill="#8f8f8f"/>
<rect x="514.74" y="82.53" width="3.8" height="3.8" fill="#8f8f8f"/>
<rect x="517.51" y="80.03" width="3.8" height="3.8" fill="#8f8f8f"/>
<rect x="520.28" y="78.87" width="3.8" height="3.8" fill="#8f8f8f"/>
<rect x="523.05" y="78.76" width="3.8" height="3.8" fill="#8f8f8f"/>
<rect x="525.82" y="79.44" width="3.8" height="3.8" fill="#8f8f8f"/>
<rect x="528.59" y="80.29" width="3.8" height="3.8" fill="#8f8f8f"/>
<rect x="531.36" y="81.82" width="3.8" height="3.8" fill="#8f8f8f"/>
<rect x="534.13" y="82.02" width="3.8" height="3.8" fill="#8f8f8f"/>
<rect x="536.90" y="83.23" width="3.8" height="3.8" fill="#8f8f8f"/>
<rect x="539.67" y="85.94" width="3.8" height="3.8" fill="#8f8f8f"/>
<rect x="542.44" y="88.94" width="3.8" height="3.8" fill="#8f8f8f"/>
<rect x="545.21" y="89.34" width="3.8" height="3.8" fill="#8f8f8f"/>
<rect x="547.98" y="89.36" width="3.8" height="3.8" fill="#8f8f8f"/>
<rect x="550.75" y="87.54" width="3.8" height="3.8" fill="#8f8f8f"/>
<rect x="553.52" y="84.30" width="3.8" height="3.8" fill="#8f8f8f"/>
<path d="M381.60,124.00 L383.70,127.80 L379.50,127.80 Z" fill="#1a3cf0"/>
<path d="M385.82,124.60 L387.92,128.40 L383.72,128.40 Z" fill="#1a3cf0"/>
<path d="M390.04,121.80 L392.14,125.60 L387.94,125.60 Z" fill="#1a3cf0"/>
<path d="M394.26,117.30 L396.36,121.10 L392.16,121.10 Z" fill="#1a3cf0"/>
<path d="M398.48,115.20 L400.58,119.00 L396.38,119.00 Z" fill="#1a3cf0"/>
<path d="M402.70,115.20 L404.80,119.00 L400.60,119.00 Z" fill="#1a3cf0"/>
<path d="M406.92,121.50 L409.02,125.30 L404.82,125.30 Z" fill="#1a3cf0"/>
<path d="M411.14,120.80 L413.24,124.60 L409.04,124.60 Z" fill="#1a3cf0"/>
<path d="M415.36,121.50 L417.46,125.30 L413.26,125.30 Z" fill="#1a3cf0"/>
<path d="M419.58,121.50 L421.68,125.30 L417.48,125.30 Z" fill="#1a3cf0"/>
<path d="M428.00,138.85 L430.10,142.65 L425.90,142.65 Z" fill="#1a3cf0"/>
<path d="M430.77,137.97 L432.87,141.77 L428.67,141.77 Z" fill="#1a3cf0"/>
<path d="M433.54,136.13 L435.64,139.93 L431.44,139.93 Z" fill="#1a3cf0"/>
<path d="M436.31,133.58 L438.41,137.38 L434.21,137.38 Z" fill="#1a3cf0"/>
<path d="M439.08,131.78 L441.18,135.58 L436.98,135.58 Z" fill="#1a3cf0"/>
<path d="M441.85,127.21 L443.95,131.01 L439.75,131.01 Z" fill="#1a3cf0"/>
<path d="M444.62,124.67 L446.72,128.47 L442.52,128.47 Z" fill="#1a3cf0"/>
<path d="M447.39,127.05 L449.49,130.85 L445.29,130.85 Z" fill="#1a3cf0"/>
<path d="M450.16,123.76 L452.26,127.56 L448.06,127.56 Z" fill="#1a3cf0"/>
<path d="M452.93,121.23 L455.03,125.03 L450.83,125.03 Z" fill="#1a3cf0"/>
<path d="M455.70,119.95 L457.80,123.75 L453.60,123.75 Z" fill="#1a3cf0"/>
<path d="M458.47,119.16 L460.57,122.96 L456.37,122.96 Z" fill="#1a3cf0"/>
<path d="M461.24,120.84 L463.34,124.64 L459.14,124.64 Z" fill="#1a3cf0"/>
<path d="M464.01,121.62 L466.11,125.42 L461.91,125.42 Z" fill="#1a3cf0"/>
<path d="M466.78,121.94 L468.88,125.74 L464.68,125.74 Z" fill="#1a3cf0"/>
<path d="M469.55,119.89 L471.65,123.69 L467.45,123.69 Z" fill="#1a3cf0"/>
<path d="M472.32,119.39 L474.42,123.19 L470.22,123.19 Z" fill="#1a3cf0"/>
<path d="M475.09,119.71 L477.19,123.51 L472.99,123.51 Z" fill="#1a3cf0"/>
<path d="M477.86,120.89 L479.96,124.69 L475.76,124.69 Z" fill="#1a3cf0"/>
<path d="M480.63,119.66 L482.73,123.46 L478.53,123.46 Z" fill="#1a3cf0"/>
<path d="M483.40,119.69 L485.50,123.49 L481.30,123.49 Z" fill="#1a3cf0"/>
<path d="M486.17,121.75 L488.27,125.55 L484.07,125.55 Z" fill="#1a3cf0"/>
<path d="M488.94,120.30 L491.04,124.10 L486.84,124.10 Z" fill="#1a3cf0"/>
<path d="M491.71,119.17 L493.81,122.97 L489.61,122.97 Z" fill="#1a3cf0"/>
<path d="M494.48,118.42 L496.58,122.22 L492.38,122.22 Z" fill="#1a3cf0"/>
<path d="M497.25,118.60 L499.35,122.40 L495.15,122.40 Z" fill="#1a3cf0"/>
<path d="M500.02,121.55 L502.12,125.35 L497.92,125.35 Z" fill="#1a3cf0"/>
<path d="M502.79,122.45 L504.89,126.25 L500.69,126.25 Z" fill="#1a3cf0"/>
<path d="M505.56,123.25 L507.66,127.05 L503.46,127.05 Z" fill="#1a3cf0"/>
<path d="M508.33,123.68 L510.43,127.48 L506.23,127.48 Z" fill="#1a3cf0"/>
<path d="M511.10,125.18 L513.20,128.98 L509.00,128.98 Z" fill="#1a3cf0"/>
<path d="M513.87,128.45 L515.97,132.25 L511.77,132.25 Z" fill="#1a3cf0"/>
<path d="M516.64,128.39 L518.74,132.19 L514.54,132.19 Z" fill="#1a3cf0"/>
<path d="M519.41,125.73 L521.51,129.53 L517.31,129.53 Z" fill="#1a3cf0"/>
<path d="M522.18,123.15 L524.28,126.95 L520.08,126.95 Z" fill="#1a3cf0"/>
<path d="M524.95,121.66 L527.05,125.46 L522.85,125.46 Z" fill="#1a3cf0"/>
<path d="M527.72,120.21 L529.82,124.01 L525.62,124.01 Z" fill="#1a3cf0"/>
<path d="M530.49,120.51 L532.59,124.31 L528.39,124.31 Z" fill="#1a3cf0"/>
<path d="M533.26,121.86 L535.36,125.66 L531.16,125.66 Z" fill="#1a3cf0"/>
<path d="M536.03,121.99 L538.13,125.79 L533.93,125.79 Z" fill="#1a3cf0"/>
<path d="M538.80,124.69 L540.90,128.49 L536.70,128.49 Z" fill="#1a3cf0"/>
<path d="M541.57,119.69 L543.67,123.49 L539.47,123.49 Z" fill="#1a3cf0"/>
<path d="M544.34,118.65 L546.44,122.45 L542.24,122.45 Z" fill="#1a3cf0"/>
<path d="M547.11,121.75 L549.21,125.55 L545.01,125.55 Z" fill="#1a3cf0"/>
<path d="M549.88,122.98 L551.98,126.78 L547.78,126.78 Z" fill="#1a3cf0"/>
<path d="M552.65,124.58 L554.75,128.38 L550.55,128.38 Z" fill="#1a3cf0"/>
<path d="M555.42,125.90 L557.52,129.70 L553.32,129.70 Z" fill="#1a3cf0"/>
<defs>
<pattern id="pg1" width="3.9" height="3.9" patternUnits="userSpaceOnUse"><rect width="3.9" height="3.9" fill="#b5adb8"/><circle cx="0.97" cy="0.97" r="0.72" fill="#55dc48"/><circle cx="2.92" cy="2.92" r="0.72" fill="#55dc48"/></pattern>
<pattern id="pg2" width="3.9" height="3.9" patternUnits="userSpaceOnUse"><rect width="3.9" height="3.9" fill="#8d8891"/><circle cx="0.97" cy="0.97" r="0.72" fill="#2a8a2c"/><circle cx="2.92" cy="2.92" r="0.72" fill="#2a8a2c"/></pattern>
<pattern id="pb1" width="3.9" height="3.9" patternUnits="userSpaceOnUse"><rect width="3.9" height="3.9" fill="#8b89fc"/><circle cx="0.97" cy="0.97" r="0.7" fill="#52b894"/><circle cx="2.92" cy="2.92" r="0.7" fill="#52b894"/></pattern>
<pattern id="pb2" width="3.9" height="3.9" patternUnits="userSpaceOnUse"><rect width="3.9" height="3.9" fill="#0202fc"/><circle cx="0.97" cy="0.97" r="0.7" fill="#1a6a50"/><circle cx="2.92" cy="2.92" r="0.7" fill="#1a6a50"/></pattern>
</defs>
<rect x="593.4" y="96.90" width="13.1" height="101.00" fill="url(#pg1)"/>
<rect x="612.9" y="65.3" width="13.5" height="132.60" fill="url(#pg2)"/>
<rect x="645.5" y="96.0" width="13.3" height="101.90" fill="url(#pb1)"/>
<rect x="665.0" y="109.8" width="13.5" height="88.10" fill="url(#pb2)"/>
<path d="M600.1,85.5 V34.3 H619.7 V53.6" stroke="#000" fill="none" stroke-width="1.0" />
<path d="M652.1,78.3 V34.3 H671.8 V109.8" stroke="#000" fill="none" stroke-width="1.0" />
<rect x="593.8" y="95.2" width="12.3" height="3.0" rx="1.5" fill="#000"/>
<rect x="613.10" y="57.00" width="3.4" height="3.4" fill="#000"/>
<rect x="622.50" y="55.90" width="3.4" height="3.4" fill="#000"/>
<rect x="613.10" y="64.20" width="3.4" height="3.4" fill="#000"/>
<rect x="613.10" y="68.70" width="3.4" height="3.4" fill="#000"/>
<rect x="613.10" y="73.60" width="3.4" height="3.4" fill="#000"/>
<rect x="622.50" y="67.30" width="3.4" height="3.4" fill="#000"/>
<rect x="622.50" y="71.80" width="3.4" height="3.4" fill="#000"/>
<line x1="617.40" y1="64.60" x2="622.60" y2="64.60" stroke="#fff" stroke-width="0.9" />
<line x1="620.00" y1="64.60" x2="620.00" y2="66.00" stroke="#fff" stroke-width="0.9" />
<circle cx="650.90" cy="89.00" r="1.8" fill="#000"/>
<circle cx="653.60" cy="91.70" r="1.8" fill="#000"/>
<circle cx="647.20" cy="95.30" r="1.8" fill="#000"/>
<circle cx="656.30" cy="97.10" r="1.8" fill="#000"/>
<circle cx="651.80" cy="101.70" r="1.8" fill="#000"/>
<circle cx="652.70" cy="94.40" r="1.8" fill="#000"/>
<circle cx="649.50" cy="96.50" r="1.8" fill="#000"/>
<circle cx="655.00" cy="95.00" r="1.8" fill="#000"/>
<line x1="669.20" y1="100.80" x2="674.40" y2="100.80" stroke="#000" stroke-width="1.0" />
<rect x="670.10" y="72.80" width="3.4" height="3.4" fill="#000"/>
<rect x="670.10" y="81.90" width="3.4" height="3.4" fill="#000"/>
<rect x="670.10" y="86.90" width="3.4" height="3.4" fill="#000"/>
<rect x="670.10" y="99.10" width="3.4" height="3.4" fill="#000"/>
<rect x="665.10" y="125.80" width="3.4" height="3.4" fill="#000"/>
<rect x="665.10" y="131.80" width="3.4" height="3.4" fill="#000"/>
<rect x="674.40" y="125.80" width="3.4" height="3.4" fill="#000"/>
<rect x="674.40" y="131.80" width="3.4" height="3.4" fill="#000"/>
<line x1="587.10" y1="45.10" x2="587.10" y2="198.80" stroke="#000" stroke-width="1.9" />
<line x1="579.00" y1="197.90" x2="680.00" y2="197.90" stroke="#000" stroke-width="1.9" />
<line x1="579.00" y1="197.90" x2="587.10" y2="197.90" stroke="#000" stroke-width="1.9" />
<line x1="579.00" y1="147.40" x2="587.10" y2="147.40" stroke="#000" stroke-width="1.9" />
<line x1="579.00" y1="96.90" x2="587.10" y2="96.90" stroke="#000" stroke-width="1.9" />
<line x1="579.00" y1="46.40" x2="587.10" y2="46.40" stroke="#000" stroke-width="1.9" />
<line x1="609.30" y1="197.90" x2="609.30" y2="205.80" stroke="#000" stroke-width="1.9" />
<line x1="661.90" y1="197.90" x2="661.90" y2="205.80" stroke="#000" stroke-width="1.9" />
<text transform="translate(574.22,197.90) rotate(-90) scale(1,1.08)" x="0" y="0" font-size="9" fill="#000" stroke="#000" stroke-width="0.18" text-anchor="middle" textLength="13.4" lengthAdjust="spacingAndGlyphs">0%</text>
<text transform="translate(574.22,147.40) rotate(-90) scale(1,1.08)" x="0" y="0" font-size="9" fill="#000" stroke="#000" stroke-width="0.18" text-anchor="middle" textLength="18.4" lengthAdjust="spacingAndGlyphs">50%</text>
<text transform="translate(574.22,96.90) rotate(-90) scale(1,1.08)" x="0" y="0" font-size="9" fill="#000" stroke="#000" stroke-width="0.18" text-anchor="middle" textLength="23.3" lengthAdjust="spacingAndGlyphs">100%</text>
<text transform="translate(574.22,46.40) rotate(-90) scale(1,1.08)" x="0" y="0" font-size="9" fill="#000" stroke="#000" stroke-width="0.18" text-anchor="middle" textLength="23.3" lengthAdjust="spacingAndGlyphs">150%</text>
<text transform="translate(595.0,218.7) scale(1,1.08)" x="0" y="0" font-size="9.0" fill="#000" stroke="#000" stroke-width="0.18" text-anchor="start" font-weight="normal" textLength="29.3" lengthAdjust="spacingAndGlyphs" >Vehicle</text>
<text transform="translate(650.8,218.7) scale(1,1.08)" x="0" y="0" font-size="9.0" fill="#000" stroke="#000" stroke-width="0.18" text-anchor="start" font-weight="normal" textLength="22.0" lengthAdjust="spacingAndGlyphs" >MF-8</text>
<line x1="602.80" y1="21.30" x2="602.80" y2="27.50" stroke="#000" stroke-width="1.75" />
<line x1="600.12" y1="22.85" x2="605.48" y2="25.95" stroke="#000" stroke-width="1.75" />
<line x1="605.48" y1="22.85" x2="600.12" y2="25.95" stroke="#000" stroke-width="1.75" />
<line x1="609.60" y1="21.30" x2="609.60" y2="27.50" stroke="#000" stroke-width="1.75" />
<line x1="606.92" y1="22.85" x2="612.28" y2="25.95" stroke="#000" stroke-width="1.75" />
<line x1="612.28" y1="22.85" x2="606.92" y2="25.95" stroke="#000" stroke-width="1.75" />
<line x1="616.40" y1="21.30" x2="616.40" y2="27.50" stroke="#000" stroke-width="1.75" />
<line x1="613.72" y1="22.85" x2="619.08" y2="25.95" stroke="#000" stroke-width="1.75" />
<line x1="619.08" y1="22.85" x2="613.72" y2="25.95" stroke="#000" stroke-width="1.75" />
<text transform="translate(657.4,27.2) scale(1,1.08)" x="0" y="0" font-size="8.8" fill="#000" stroke="#000" stroke-width="0.18" text-anchor="start" font-weight="normal" textLength="9.4" lengthAdjust="spacingAndGlyphs" >ns</text>
<text transform="translate(24.4,246.0) scale(1,1.0)" x="0" y="0" font-size="10.0" fill="#000" text-anchor="start" font-weight="bold" >C</text>
<defs><linearGradient id="gband" x1="0" y1="0" x2="628" y2="0" gradientUnits="userSpaceOnUse">
<stop offset="0" stop-color="#ffffff"/><stop offset="0.03" stop-color="#fdfdfe"/><stop offset="0.18" stop-color="#e1e7f0"/><stop offset="0.34" stop-color="#cdd7e4"/><stop offset="0.53" stop-color="#bfcbdd"/><stop offset="1" stop-color="#b9c8dc"/></linearGradient>
<linearGradient id="gup1" x1="229" y1="0" x2="370" y2="0" gradientUnits="userSpaceOnUse"><stop offset="0" stop-color="#ffffff"/><stop offset="0.25" stop-color="#e3e9f0"/><stop offset="1" stop-color="#c2cfdf"/></linearGradient>
<linearGradient id="gup2" x1="478" y1="0" x2="628" y2="0" gradientUnits="userSpaceOnUse"><stop offset="0" stop-color="#ffffff"/><stop offset="0.22" stop-color="#d8e0ea"/><stop offset="1" stop-color="#b8c7db"/></linearGradient></defs>
<path d="M0,363.2 L605.8,363.2 L605.8,360.2 L627.8,370.2 L605.8,380.7 L605.8,377.3 L0,377.3 Z" stroke="none" fill="url(#gband)" stroke-width="1" />
<path d="M229.3,342.8 L360.2,342.8 L360.2,340.5 L370.4,348.7 L360.2,356.9 L360.2,354.5 L229.3,354.5 Z" stroke="none" fill="url(#gup1)" stroke-width="1" />
<path d="M478.4,343.1 L605.8,343.1 L605.8,337.9 L627.8,348.7 L605.8,359.4 L605.8,355.0 L478.4,355.0 Z" stroke="none" fill="url(#gup2)" stroke-width="1" />
<line x1="123.80" y1="322.30" x2="123.80" y2="377.00" stroke="#333" stroke-width="1.1" />
<line x1="227.60" y1="322.80" x2="227.60" y2="376.70" stroke="#333" stroke-width="1.1" />
<line x1="377.20" y1="322.70" x2="377.20" y2="376.50" stroke="#333" stroke-width="1.1" />
<line x1="472.00" y1="321.40" x2="472.00" y2="375.20" stroke="#333" stroke-width="1.1" />
<g transform="translate(0,0)">
<path d="M34.2,316.0 C40,311.5 48,309.4 56,308.2 C63,307.4 74,307.4 82,308.2 C90,309.2 98,311.5 103.2,316.2 L104.2,322.6 L100.8,322.6 L100.8,325.8 L104.3,325.8 L104.3,331.5 C104,334 101,336 96,337.5 C90,341.5 80,343.8 69,343.8 C58,343.8 48,341.5 42,337.5 C37,336 34,334 33.6,331.5 L33.6,325.8 L37.1,325.8 L37.1,322.6 L33.5,322.6 Z" stroke="#c4c4c4" fill="#f3f3f3" stroke-width="0.7" />
<path d="M44.6,340 C44.6,352 56,359.9 68.8,359.9 C81.6,359.9 93,352 93,340 Z" stroke="#c4c4c4" fill="#ededed" stroke-width="0.7" />
<ellipse cx="68.8" cy="343.4" rx="24.0" ry="16.2" fill="#ebe9e9" stroke="#c9c9c9" stroke-width="0.6"/>
<path d="M58.5,332.2 C60,329.8 66,329.9 70,331 C74,329.8 79,331.2 81.5,334 C83,336 82.5,339.5 81.8,341.5 C79,339.5 76,338.2 72,338.8 C67,339.3 62,337.5 58.5,332.2 Z" stroke="#ecc0b7" fill="#f6dcd5" stroke-width="0.4" />
<path d="M47.2,343.2 C49,341.5 51,343 53,345.5 C56,349 61,349.5 66,348.2 C72,346.8 79,345.8 84,344.6 C87.5,343.8 89.8,345 89,347 C87,350 82,351.5 76,352.2 C71,353 68,355.5 65.5,356 C61,356.5 55,354.5 51,351 C48,348.5 46.5,345.5 47.2,343.2 Z" stroke="#ecc0b7" fill="#f6dcd5" stroke-width="0.4" />
<line x1="61.00" y1="333.00" x2="66.00" y2="335.00" stroke="#e8b4aa" stroke-width="0.4" />
<line x1="70.00" y1="333.00" x2="74.00" y2="336.00" stroke="#e8b4aa" stroke-width="0.4" />
<line x1="76.00" y1="334.00" x2="80.00" y2="337.00" stroke="#e8b4aa" stroke-width="0.4" />
<line x1="52.00" y1="347.00" x2="57.00" y2="350.00" stroke="#e8b4aa" stroke-width="0.4" />
<line x1="62.00" y1="351.00" x2="66.00" y2="353.00" stroke="#e8b4aa" stroke-width="0.4" />
<line x1="72.00" y1="348.00" x2="78.00" y2="349.00" stroke="#e8b4aa" stroke-width="0.4" />
<line x1="80.00" y1="347.00" x2="85.00" y2="348.00" stroke="#e8b4aa" stroke-width="0.4" />
<ellipse cx="68.7" cy="326.5" rx="26.6" ry="16.3" fill="#ffffff" fill-opacity="0.35" stroke="#bababa" stroke-width="0.75"/>
<path d="M68.6,310.3 L74.4,310.5 L74.4,329.0 L68.6,328.8 Z" stroke="none" fill="#ffffff" stroke-width="1" fill-opacity="0.6"/>
</g>
<g transform="translate(103,1.5)">
<path d="M34.2,316.0 C40,311.5 48,309.4 56,308.2 C63,307.4 74,307.4 82,308.2 C90,309.2 98,311.5 103.2,316.2 L104.2,322.6 L100.8,322.6 L100.8,325.8 L104.3,325.8 L104.3,331.5 C104,334 101,336 96,337.5 C90,341.5 80,343.8 69,343.8 C58,343.8 48,341.5 42,337.5 C37,336 34,334 33.6,331.5 L33.6,325.8 L37.1,325.8 L37.1,322.6 L33.5,322.6 Z" stroke="#c4c4c4" fill="#f3f3f3" stroke-width="0.7" />
<path d="M44.6,340 C44.6,352 56,359.9 68.8,359.9 C81.6,359.9 93,352 93,340 Z" stroke="#c4c4c4" fill="#ededed" stroke-width="0.7" />
<ellipse cx="68.8" cy="343.4" rx="24.0" ry="16.2" fill="#ebe9e9" stroke="#c9c9c9" stroke-width="0.6"/>
<path d="M58.5,332.2 C60,329.8 66,329.9 70,331 C74,329.8 79,331.2 81.5,334 C83,336 82.5,339.5 81.8,341.5 C79,339.5 76,338.2 72,338.8 C67,339.3 62,337.5 58.5,332.2 Z" stroke="#ecc0b7" fill="#f6dcd5" stroke-width="0.4" />
<path d="M47.2,343.2 C49,341.5 51,343 53,345.5 C56,349 61,349.5 66,348.2 C72,346.8 79,345.8 84,344.6 C87.5,343.8 89.8,345 89,347 C87,350 82,351.5 76,352.2 C71,353 68,355.5 65.5,356 C61,356.5 55,354.5 51,351 C48,348.5 46.5,345.5 47.2,343.2 Z" stroke="#ecc0b7" fill="#f6dcd5" stroke-width="0.4" />
<line x1="61.00" y1="333.00" x2="66.00" y2="335.00" stroke="#e8b4aa" stroke-width="0.4" />
<line x1="70.00" y1="333.00" x2="74.00" y2="336.00" stroke="#e8b4aa" stroke-width="0.4" />
<line x1="76.00" y1="334.00" x2="80.00" y2="337.00" stroke="#e8b4aa" stroke-width="0.4" />
<line x1="52.00" y1="347.00" x2="57.00" y2="350.00" stroke="#e8b4aa" stroke-width="0.4" />
<line x1="62.00" y1="351.00" x2="66.00" y2="353.00" stroke="#e8b4aa" stroke-width="0.4" />
<line x1="72.00" y1="348.00" x2="78.00" y2="349.00" stroke="#e8b4aa" stroke-width="0.4" />
<line x1="80.00" y1="347.00" x2="85.00" y2="348.00" stroke="#e8b4aa" stroke-width="0.4" />
<ellipse cx="68.7" cy="326.5" rx="26.6" ry="16.3" fill="#ffffff" fill-opacity="0.35" stroke="#bababa" stroke-width="0.75"/>
<path d="M68.6,310.3 L74.4,310.5 L74.4,329.0 L68.6,328.8 Z" stroke="none" fill="#ffffff" stroke-width="1" fill-opacity="0.6"/>
</g>
<path d="M103.56,306.10 C103.56,310.46 106.58,312.00 106.73,314.30 C106.58,316.60 103.56,318.14 103.56,322.20 L113.64,322.20 C113.64,318.14 110.62,316.60 110.47,314.30 C110.62,312.00 113.64,310.46 113.64,306.10 Z" stroke="#2b5e3f" fill="#ffffff" stroke-width="1.1" />
<path d="M105.00,308.92 L112.20,308.92 C111.77,310.84 109.75,312.38 109.46,314.30 L107.74,314.30 C107.45,312.38 105.43,310.84 105.00,308.92 Z" stroke="none" fill="#74c378" stroke-width="1" />
<rect x="107.95" y="313.92" width="1.30" height="5.76" fill="#74c378"/>
<path d="M104.57,321.90 C106.44,320.06 107.88,318.14 108.60,318.14 C109.32,318.14 110.76,320.06 112.63,321.90 Z" stroke="none" fill="#74c378" stroke-width="1" />
<rect x="101.40" y="304.70" width="14.40" height="1.6" rx="0.7" fill="#2b5e3f"/>
<rect x="101.40" y="322.00" width="14.40" height="1.9" rx="0.7" fill="#2b5e3f"/>
<path d="M207.23,307.40 C207.23,311.79 210.21,313.33 210.35,315.65 C210.21,317.97 207.23,319.51 207.23,323.60 L217.17,323.60 C217.17,319.51 214.19,317.97 214.05,315.65 C214.19,313.33 217.17,311.79 217.17,307.40 Z" stroke="#2b5e3f" fill="#ffffff" stroke-width="1.1" />
<path d="M208.65,310.25 L215.75,310.25 C215.32,312.18 213.34,313.72 213.05,315.65 L211.35,315.65 C211.06,313.72 209.08,312.18 208.65,310.25 Z" stroke="none" fill="#74c378" stroke-width="1" />
<rect x="211.56" y="315.26" width="1.28" height="5.79" fill="#74c378"/>
<path d="M208.22,323.30 C210.07,321.44 211.49,319.51 212.20,319.51 C212.91,319.51 214.33,321.44 216.18,323.30 Z" stroke="none" fill="#74c378" stroke-width="1" />
<rect x="205.10" y="306.00" width="14.20" height="1.6" rx="0.7" fill="#2b5e3f"/>
<rect x="205.10" y="323.40" width="14.20" height="1.9" rx="0.7" fill="#2b5e3f"/>
<rect x="182.5" y="281.6" width="8.6" height="1.7" fill="#222"/>
<rect x="186.3" y="283.2" width="1.8" height="6.0" fill="#222"/>
<rect x="180.2" y="289.0" width="12.8" height="2.0" fill="#222"/>
<rect x="182.2" y="291.0" width="8.6" height="28.0" fill="#f4f4f4" stroke="#333" stroke-width="0.9"/>
<rect x="183.2" y="307.0" width="6.6" height="11.4" fill="#d49a16"/>
<line x1="187.80" y1="293.50" x2="190.60" y2="293.50" stroke="#555" stroke-width="0.7" />
<line x1="187.80" y1="296.30" x2="190.60" y2="296.30" stroke="#555" stroke-width="0.7" />
<line x1="187.80" y1="299.10" x2="190.60" y2="299.10" stroke="#555" stroke-width="0.7" />
<line x1="187.80" y1="301.90" x2="190.60" y2="301.90" stroke="#555" stroke-width="0.7" />
<line x1="187.80" y1="304.70" x2="190.60" y2="304.70" stroke="#555" stroke-width="0.7" />
<rect x="184.4" y="319.0" width="3.8" height="4.6" fill="#f4f4f4" stroke="#333" stroke-width="0.8"/>
<line x1="186.30" y1="323.60" x2="186.30" y2="342.20" stroke="#444" stroke-width="0.7" />
<path d="M227.5,298.5 L256.5,298.5 C258,298.5 258.9,300 258.9,301.5 L258.9,310.8 C258.9,312 258,312.8 257,312.8 L227,312.8 C226,312.8 225.3,312 225.3,310.8 L225.3,301.5 C225.3,300 226.2,298.5 227.5,298.5 Z" stroke="#a9a9a9" fill="#efefef" stroke-width="0.5" />
<path d="M225.6,308.8 L258.7,308.8 L258.7,310.8 C258.7,312 258,312.6 257,312.6 L227,312.6 C226,312.6 225.6,312 225.6,310.8 Z" stroke="none" fill="#c9c9c9" stroke-width="1" />
<ellipse cx="239.3" cy="299.2" rx="4.0" ry="1.7" fill="#2e2e2e"/>
<path d="M245.2,302.6 L254.3,302.6 L255.0,305.4 L244.6,305.4 Z" stroke="none" fill="#3a3a3a" stroke-width="1" />
<path d="M244.8,275.6 C248.5,275.2 251.5,276.5 252.5,279.5 L257.2,296.5 L249.5,298.8 L246.6,289 L245.2,283 Z" stroke="#9a9a9a" fill="#f5f5f5" stroke-width="0.5" />
<path d="M246.3,279.0 L250.8,278.6 L251.2,291.0 L246.6,291.0 Z" stroke="none" fill="#3a3a3a" stroke-width="1" />
<path d="M234.3,290.8 L243.4,290.8 L242.8,296.8 L235,296.8 Z" stroke="none" fill="#4a4a4a" stroke-width="1" />
<path d="M229.0,286.6 L255.8,286.6 L256.3,290.9 L228.4,290.9 Z" stroke="none" fill="#262626" stroke-width="1" />
<rect x="234.0" y="285.6" width="8.5" height="1.3" fill="#9fb4c8"/>
<ellipse cx="256.5" cy="293.0" rx="2.4" ry="2.6" fill="#2a2a2a"/>
<path d="M231.0,277.5 L241.0,275.4 L243.2,280.2 L234.2,283.8 Z" stroke="#8a8a8a" fill="#cfcfcf" stroke-width="0.4" />
<path d="M232.0,280.5 L235.2,279.6 L236.8,284.0 L233.6,284.8 Z" stroke="none" fill="#a9a9a9" stroke-width="1" />
<path d="M236.8,279.2 L239.6,278.6 L240.6,283.4 L237.8,284.0 Z" stroke="none" fill="#bdbdbd" stroke-width="1" />
<path d="M231.5,268.6 L245.8,270.0 C247.2,270.3 247.3,272 247.0,274.8 L244.5,276.6 L233.0,276.0 Z" stroke="none" fill="#3e3e3e" stroke-width="1" />
<path d="M222.6,268.4 C222.3,266.5 223.6,265.4 225.4,265.9 L234.2,269.2 L232.6,274.0 L224.2,271.2 C223.2,270.8 222.7,269.8 222.6,268.4 Z" stroke="none" fill="#1e1e1e" stroke-width="1" />
<path d="M226.4,265.9 C226.3,264.2 227.6,263.4 229.2,263.9 L237.0,267.0 L235.6,271.2 L228.0,268.4 C227.0,268.0 226.5,267.2 226.4,265.9 Z" stroke="none" fill="#2a2a2a" stroke-width="1" />
<ellipse cx="223.9" cy="268.3" rx="1.5" ry="2.3" fill="#454545" transform="rotate(20 223.9 268.3)"/>
<ellipse cx="227.7" cy="265.8" rx="1.3" ry="2.0" fill="#4a4a4a" transform="rotate(20 227.7 265.8)"/>
<path d="M292.6,259.0 C289,257.0 281,256.8 275.5,258.6 C269.5,261 266.0,267 265.6,274.5 C265.3,282 268.0,288.5 272.5,291.8 C275,293.6 278.5,294.0 281.0,292.6 C282.3,291.8 282.2,290.5 281.4,289.5 C279.0,286 276.4,283 276.2,279.0 C276.0,275 277.8,271.8 280.2,269.6 C282.5,267.6 286,266.8 289.5,266.3 C291.5,265.9 292.6,265.2 293.0,263.8 C293.5,262 293.4,260.2 292.6,259.0 Z" stroke="#e3958c" fill="#f9e1db" stroke-width="0.75" />
<path d="M276.0,263.0 C271.2,267 269.8,274 271.0,281 C271.8,285.5 274.0,289 277.0,291" stroke="#eba89f" fill="none" stroke-width="0.5" />
<path d="M280.0,262.2 C285.5,260.8 289.5,260.8 292.0,261.5" stroke="#eeb3aa" fill="none" stroke-width="0.4" />
<rect x="267.3" y="267.4" width="3.8" height="4.4" fill="#666" transform="rotate(18 269.2 269.6)"/>
<line x1="251.60" y1="277.20" x2="269.70" y2="261.30" stroke="#2a2a2a" stroke-width="1.0" stroke-dasharray="2.8,2"/>
<line x1="258.80" y1="292.10" x2="277.00" y2="293.60" stroke="#2a2a2a" stroke-width="1.0" stroke-dasharray="2.8,2"/>
<line x1="331.30" y1="286.00" x2="353.30" y2="262.30" stroke="#2a2a2a" stroke-width="1.0" stroke-dasharray="2.8,2"/>
<line x1="341.80" y1="313.10" x2="368.10" y2="313.10" stroke="#2a2a2a" stroke-width="1.0" stroke-dasharray="2.8,2"/>
<line x1="545.80" y1="277.50" x2="571.90" y2="257.00" stroke="#2a2a2a" stroke-width="1.0" stroke-dasharray="2.8,2"/>
<line x1="558.00" y1="306.60" x2="577.80" y2="310.60" stroke="#2a2a2a" stroke-width="1.0" stroke-dasharray="2.8,2"/>
<rect x="289.30" y="269.90" width="40.50" height="26.30" fill="#171b26" rx="1.2"/>
<rect x="291.20" y="272.20" width="36.40" height="22.80" fill="#dfe3e8" />
<rect x="292.50" y="275.40" width="13.80" height="7.60" fill="#080808" />
<rect x="292.50" y="284.90" width="13.80" height="6.80" fill="#080808" />
<rect x="307.70" y="275.40" width="19.60" height="7.60" fill="#1c1c1c" />
<rect x="307.70" y="284.90" width="19.60" height="6.80" fill="#1c1c1c" />
<rect x="308.20" y="277.50" width="18.60" height="0.40" fill="#9a8a80" />
<rect x="308.20" y="280.50" width="18.60" height="0.40" fill="#9a8a80" />
<rect x="308.20" y="286.90" width="18.60" height="0.40" fill="#9a8a80" />
<rect x="308.20" y="289.70" width="18.60" height="0.40" fill="#9a8a80" />
<rect x="292.50" y="293.40" width="1.60" height="0.90" fill="#3ec04a" />
<path d="M289.80,296.10 L329.30,296.10 L335.30,302.90 L286.80,302.90 Z" fill="#20242f"/>
<rect x="290.30" y="297.10" width="38.00" height="3.50" fill="#2c313d" />
<rect x="286.80" y="301.90" width="54.00" height="1.60" fill="#4b505c" />
<rect x="286.80" y="303.50" width="54.00" height="9.60" fill="#181c25" />
<rect x="286.80" y="313.10" width="54.00" height="1.00" fill="#3d424e" />
<rect x="286.80" y="314.10" width="54.00" height="8.60" fill="#161a22" />
<rect x="297.80" y="309.30" width="1.30" height="1.30" fill="#d83a3a" />
<rect x="297.80" y="318.70" width="1.30" height="1.30" fill="#d83a3a" />
<rect x="294.30" y="309.10" width="2.40" height="1.80" fill="#8a8f99" />
<rect x="294.30" y="318.50" width="2.40" height="1.80" fill="#8a8f99" />
<rect x="311.30" y="309.50" width="12.00" height="1.30" fill="#9a9fa8" />
<rect x="333.80" y="308.30" width="4.50" height="2.60" fill="#9da2aa" />
<rect x="333.80" y="317.70" width="4.50" height="2.60" fill="#9da2aa" />
<path d="M340.30,315.90 C345.30,320.90 339.30,324.90 321.30,325.70 C309.30,326.20 299.30,326.40 293.30,327.10" stroke="#e6e6de" fill="none" stroke-width="1.8" />
<path d="M289.70,327.70 L296.90,326.30 L298.30,329.50 L298.30,331.70 L289.90,333.30 L288.70,331.10 Z" fill="#262b36"/>
<path d="M289.70,327.70 L296.90,326.30 L297.90,328.50 L290.30,329.90 Z" fill="#4a505c"/>
<path d="M301.60,327.70 L308.80,326.30 L310.20,329.50 L310.20,331.70 L301.80,333.30 L300.60,331.10 Z" fill="#262b36"/>
<path d="M301.60,327.70 L308.80,326.30 L309.80,328.50 L302.20,329.90 Z" fill="#4a505c"/>
<path d="M313.50,327.70 L320.70,326.30 L322.10,329.50 L322.10,331.70 L313.70,333.30 L312.50,331.10 Z" fill="#262b36"/>
<path d="M313.50,327.70 L320.70,326.30 L321.70,328.50 L314.10,329.90 Z" fill="#4a505c"/>
<path d="M325.40,327.70 L332.60,326.30 L334.00,329.50 L334.00,331.70 L325.60,333.30 L324.40,331.10 Z" fill="#262b36"/>
<path d="M325.40,327.70 L332.60,326.30 L333.60,328.50 L326.00,329.90 Z" fill="#4a505c"/>
<rect x="504.30" y="266.80" width="40.09" height="26.04" fill="#171b26" rx="1.2"/>
<rect x="506.18" y="269.08" width="36.04" height="22.57" fill="#dfe3e8" />
<rect x="507.47" y="272.25" width="13.66" height="7.52" fill="#080808" />
<rect x="507.47" y="281.65" width="13.66" height="6.73" fill="#080808" />
<rect x="522.52" y="272.25" width="19.40" height="7.52" fill="#1c1c1c" />
<rect x="522.52" y="281.65" width="19.40" height="6.73" fill="#1c1c1c" />
<rect x="523.01" y="274.32" width="18.41" height="0.40" fill="#9a8a80" />
<rect x="523.01" y="277.29" width="18.41" height="0.40" fill="#9a8a80" />
<rect x="523.01" y="283.63" width="18.41" height="0.40" fill="#9a8a80" />
<rect x="523.01" y="286.40" width="18.41" height="0.40" fill="#9a8a80" />
<rect x="507.47" y="290.06" width="1.58" height="0.89" fill="#3ec04a" />
<path d="M504.80,292.74 L543.90,292.74 L549.84,299.47 L501.82,299.47 Z" fill="#20242f"/>
<rect x="505.29" y="293.73" width="37.62" height="3.46" fill="#2c313d" />
<rect x="501.82" y="298.48" width="53.46" height="1.58" fill="#4b505c" />
<rect x="501.82" y="300.06" width="53.46" height="9.50" fill="#181c25" />
<rect x="501.82" y="309.57" width="53.46" height="0.99" fill="#3d424e" />
<rect x="501.82" y="310.56" width="53.46" height="8.51" fill="#161a22" />
<rect x="512.72" y="305.81" width="1.29" height="1.29" fill="#d83a3a" />
<rect x="512.72" y="315.11" width="1.29" height="1.29" fill="#d83a3a" />
<rect x="509.25" y="305.61" width="2.38" height="1.78" fill="#8a8f99" />
<rect x="509.25" y="314.91" width="2.38" height="1.78" fill="#8a8f99" />
<rect x="526.08" y="306.00" width="11.88" height="1.29" fill="#9a9fa8" />
<rect x="548.36" y="304.82" width="4.46" height="2.57" fill="#9da2aa" />
<rect x="548.36" y="314.12" width="4.46" height="2.57" fill="#9da2aa" />
<path d="M554.79,312.34 C559.74,317.29 553.80,321.25 535.98,322.04 C524.10,322.54 514.20,322.74 508.26,323.43" stroke="#e6e6de" fill="none" stroke-width="1.8" />
<path d="M504.70,325.62 L511.82,324.24 L513.21,327.40 L513.21,329.58 L504.89,331.17 L503.71,328.99 Z" fill="#262b36"/>
<path d="M504.70,325.62 L511.82,324.24 L512.81,326.41 L505.29,327.80 Z" fill="#4a505c"/>
<path d="M516.48,325.62 L523.61,324.24 L524.99,327.40 L524.99,329.58 L516.67,331.17 L515.49,328.99 Z" fill="#262b36"/>
<path d="M516.48,325.62 L523.61,324.24 L524.60,326.41 L517.07,327.80 Z" fill="#4a505c"/>
<path d="M528.26,325.62 L535.39,324.24 L536.77,327.40 L536.77,329.58 L528.46,331.17 L527.27,328.99 Z" fill="#262b36"/>
<path d="M528.26,325.62 L535.39,324.24 L536.38,326.41 L528.85,327.80 Z" fill="#4a505c"/>
<path d="M540.04,325.62 L547.17,324.24 L548.55,327.40 L548.55,329.58 L540.24,331.17 L539.05,328.99 Z" fill="#262b36"/>
<path d="M540.04,325.62 L547.17,324.24 L548.16,326.41 L540.63,327.80 Z" fill="#4a505c"/>
<line x1="356.70" y1="268.10" x2="356.70" y2="309.50" stroke="#222" stroke-width="1.0" />
<line x1="354.90" y1="268.10" x2="356.70" y2="268.10" stroke="#222" stroke-width="0.7" />
<line x1="354.90" y1="281.90" x2="356.70" y2="281.90" stroke="#222" stroke-width="0.7" />
<line x1="354.90" y1="295.70" x2="356.70" y2="295.70" stroke="#222" stroke-width="0.7" />
<line x1="354.90" y1="309.50" x2="356.70" y2="309.50" stroke="#222" stroke-width="0.7" />
<line x1="356.70" y1="281.50" x2="391.70" y2="281.50" stroke="#aaa" stroke-width="0.6" stroke-dasharray="2,1.6"/>
<path d="M356.7,281.2 C360,281.5 362,289 364,298 C365.5,304 367,306 368.5,304 C370.5,300 371.5,280 374.5,277.6 C376.5,276 377.5,283 380.5,284.3 C383.5,285.5 386,282 391.7,281.2" stroke="#ee3535" fill="none" stroke-width="0.9" />
<line x1="570.10" y1="264.50" x2="570.10" y2="306.00" stroke="#222" stroke-width="1.0" />
<line x1="568.30" y1="264.50" x2="570.10" y2="264.50" stroke="#222" stroke-width="0.7" />
<line x1="568.30" y1="278.33" x2="570.10" y2="278.33" stroke="#222" stroke-width="0.7" />
<line x1="568.30" y1="292.17" x2="570.10" y2="292.17" stroke="#222" stroke-width="0.7" />
<line x1="568.30" y1="306.00" x2="570.10" y2="306.00" stroke="#222" stroke-width="0.7" />
<line x1="570.10" y1="278.40" x2="605.70" y2="278.40" stroke="#aaa" stroke-width="0.6" stroke-dasharray="2,1.6"/>
<path d="M570.1,278.4 C573,278.6 575,285 577,294 C578.5,300 580,302.5 581.5,301.5 C583.5,299 585,276 588.5,274.6 C590.5,273.8 592,280 595,280.8 C598,281.5 600,278.4 605.7,278.4" stroke="#ee3535" fill="none" stroke-width="0.9" />
<rect x="392.6" y="313.0" width="3.1" height="36.0" fill="#888888"/>
<rect x="399.9" y="313.0" width="3.1" height="36.0" fill="#888888"/>
<rect x="407.1" y="313.0" width="3.1" height="36.0" fill="#888888"/>
<rect x="414.3" y="313.0" width="3.1" height="36.0" fill="#888888"/>
<path d="M391.8,310.5 L401.5,310.5 L400.3,314.6 L393.0,314.6 Z" stroke="#e63b2e" fill="none" stroke-width="0.8" />
<line x1="388.80" y1="329.90" x2="432.40" y2="329.90" stroke="#e63b2e" stroke-width="1.1" />
<line x1="388.80" y1="328.60" x2="388.80" y2="331.00" stroke="#e63b2e" stroke-width="0.8" />
<line x1="432.40" y1="328.60" x2="432.40" y2="331.00" stroke="#e63b2e" stroke-width="0.8" />
<line x1="432.40" y1="329.90" x2="440.50" y2="329.90" stroke="#999" stroke-width="0.6" />
<path d="M440.0,328.6 L442.2,329.9 L440.0,331.2 Z" stroke="none" fill="#777" stroke-width="1" />
<rect x="391.6" y="346.2" width="3.2" height="4.6" fill="none" stroke="#e63b2e" stroke-width="0.8"/>
<path d="M388.8,354.2 L393.2,350.8 L397.4,354.2" stroke="#e63b2e" fill="none" stroke-width="0.8" />
<text transform="translate(388.6,307.8) scale(1,1.08)" x="0" y="0" font-size="8.8" fill="#000" stroke="#000" stroke-width="0.18" text-anchor="start" font-weight="normal" textLength="33.8" lengthAdjust="spacingAndGlyphs" >5HZ <tspan font-size="10.8" dy="1.0">×</tspan><tspan dy="-1.0">4</tspan></text>
<text transform="translate(417.8,326.5) scale(1,1.08)" x="0" y="0" font-size="8.8" fill="#000" stroke="#000" stroke-width="0.18" text-anchor="start" font-weight="normal" textLength="47.8" lengthAdjust="spacingAndGlyphs" >0.1HZ <tspan font-size="10.8" dy="1.0">×</tspan><tspan dy="-1.0">10</tspan></text>
<text transform="translate(383.3,361.6) scale(1,1.08)" x="0" y="0" font-size="8.8" fill="#000" stroke="#000" stroke-width="0.18" text-anchor="start" font-weight="normal" textLength="41.8" lengthAdjust="spacingAndGlyphs" >100HZ<tspan font-size="10.8" dy="1.0">×</tspan><tspan dy="-1.0">5</tspan></text>
<text transform="translate(36.8,374.5) scale(1,1.08)" x="0" y="0" font-size="10.2" fill="#000" stroke="#000" stroke-width="0.18" text-anchor="start" font-weight="normal" textLength="80.5" lengthAdjust="spacingAndGlyphs" >Recovery period</text>
<text transform="translate(48.5,385.2) scale(1,1.08)" x="0" y="0" font-size="10.2" fill="#000" stroke="#000" stroke-width="0.18" text-anchor="start" font-weight="normal" textLength="46.5" lengthAdjust="spacingAndGlyphs" >&gt; 1 hours</text>
<text transform="translate(128.6,372.6) scale(1,1.08)" x="0" y="0" font-size="10.2" fill="#000" stroke="#000" stroke-width="0.18" text-anchor="start" font-weight="normal" textLength="77.8" lengthAdjust="spacingAndGlyphs" >Drug incubation</text>
<text transform="translate(155.0,384.0) scale(1,1.08)" x="0" y="0" font-size="10.2" fill="#000" stroke="#000" stroke-width="0.18" text-anchor="start" font-weight="normal" textLength="30.8" lengthAdjust="spacingAndGlyphs" >1 hour</text>
<path d="M144.9,379.6 c1.1,-1.3 2.2,-1.3 3.3,0 s2.2,1.3 3.3,0 M144.9,382.3 c1.1,-1.3 2.2,-1.3 3.3,0 s2.2,1.3 3.3,0" stroke="#111" fill="none" stroke-width="0.95" />
<text transform="translate(233.3,373.2) scale(1,1.08)" x="0" y="0" font-size="10.2" fill="#000" stroke="#000" stroke-width="0.18" text-anchor="start" font-weight="normal" textLength="126.4" lengthAdjust="spacingAndGlyphs" >Baseline recording period</text>
<text transform="translate(233.3,351.5) scale(1,1.08)" x="0" y="0" font-size="10.0" fill="#000" stroke="#000" stroke-width="0.18" text-anchor="start" font-weight="normal" textLength="126.2" lengthAdjust="spacingAndGlyphs" >stable fEPSP &gt;20minutes</text>
<text transform="translate(389.7,372.7) scale(1,1.08)" x="0" y="0" font-size="10.2" fill="#000" stroke="#000" stroke-width="0.18" text-anchor="start" font-weight="normal" textLength="65.8" lengthAdjust="spacingAndGlyphs" >LTP induction</text>
<text transform="translate(504.1,351.5) scale(1,1.08)" x="0" y="0" font-size="10.0" fill="#000" stroke="#000" stroke-width="0.18" text-anchor="start" font-weight="normal" textLength="97.0" lengthAdjust="spacingAndGlyphs" >fEPSP &gt; 60minutes</text>
</svg></div></body></html>
